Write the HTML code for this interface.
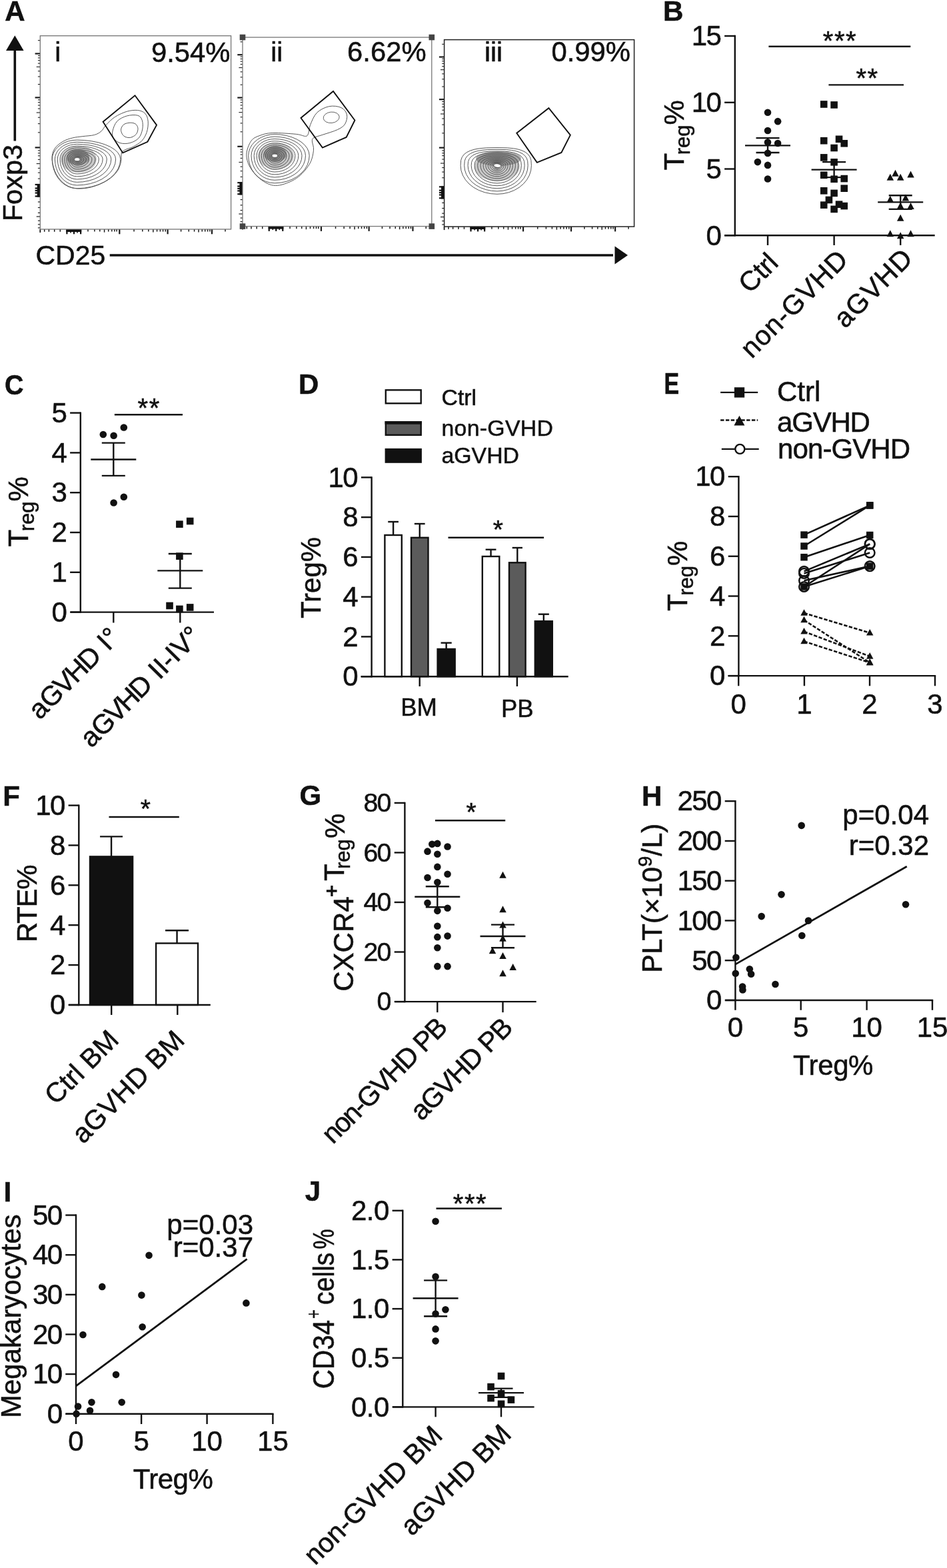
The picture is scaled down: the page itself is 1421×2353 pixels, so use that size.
<!DOCTYPE html>
<html lang="en"><head><meta charset="utf-8"><title>Figure</title>
<style>
html,body{margin:0;padding:0;background:#fff}
svg{display:block}
svg text{font-family:"Liberation Sans",Arial,Helvetica,sans-serif;stroke:#111;stroke-width:.55px}
</style></head>
<body>
<svg width="1421" height="2353" viewBox="0 0 1421 2353">
<rect width="1421" height="2353" fill="#fff"/>
<text transform="translate(7.2 30.8)" font-size="42" font-weight="bold" stroke-width="0" fill="#111">A</text>
<line x1="52.6" y1="80.5" x2="60.3" y2="80.5" stroke="#1c1c1c" stroke-width="2.2"/>
<line x1="52.6" y1="146.4" x2="60.3" y2="146.4" stroke="#1c1c1c" stroke-width="2.2"/>
<line x1="52.6" y1="221.4" x2="60.3" y2="221.4" stroke="#1c1c1c" stroke-width="2.2"/>
<line x1="56.9" y1="126.56" x2="60.3" y2="126.56" stroke="#1c1c1c" stroke-width="1.1"/>
<line x1="56.9" y1="114.96" x2="60.3" y2="114.96" stroke="#1c1c1c" stroke-width="1.1"/>
<line x1="56.9" y1="106.72" x2="60.3" y2="106.72" stroke="#1c1c1c" stroke-width="1.1"/>
<line x1="54.7" y1="100.34" x2="60.3" y2="100.34" stroke="#1c1c1c" stroke-width="1.1"/>
<line x1="56.9" y1="95.12" x2="60.3" y2="95.12" stroke="#1c1c1c" stroke-width="1.1"/>
<line x1="56.9" y1="90.71" x2="60.3" y2="90.71" stroke="#1c1c1c" stroke-width="1.1"/>
<line x1="56.9" y1="86.89" x2="60.3" y2="86.89" stroke="#1c1c1c" stroke-width="1.1"/>
<line x1="56.9" y1="83.52" x2="60.3" y2="83.52" stroke="#1c1c1c" stroke-width="1.1"/>
<line x1="56.9" y1="198.82" x2="60.3" y2="198.82" stroke="#1c1c1c" stroke-width="1.1"/>
<line x1="56.9" y1="185.62" x2="60.3" y2="185.62" stroke="#1c1c1c" stroke-width="1.1"/>
<line x1="56.9" y1="176.25" x2="60.3" y2="176.25" stroke="#1c1c1c" stroke-width="1.1"/>
<line x1="54.7" y1="168.98" x2="60.3" y2="168.98" stroke="#1c1c1c" stroke-width="1.1"/>
<line x1="56.9" y1="163.04" x2="60.3" y2="163.04" stroke="#1c1c1c" stroke-width="1.1"/>
<line x1="56.9" y1="158.02" x2="60.3" y2="158.02" stroke="#1c1c1c" stroke-width="1.1"/>
<line x1="56.9" y1="153.67" x2="60.3" y2="153.67" stroke="#1c1c1c" stroke-width="1.1"/>
<line x1="56.9" y1="149.83" x2="60.3" y2="149.83" stroke="#1c1c1c" stroke-width="1.1"/>
<line x1="56.9" y1="60.66" x2="60.3" y2="60.66" stroke="#1c1c1c" stroke-width="1.1"/>
<line x1="56.9" y1="225.9" x2="60.3" y2="225.9" stroke="#1c1c1c" stroke-width="1.1"/>
<line x1="56.9" y1="229.8" x2="60.3" y2="229.8" stroke="#1c1c1c" stroke-width="1.1"/>
<line x1="56.9" y1="233.8" x2="60.3" y2="233.8" stroke="#1c1c1c" stroke-width="1.1"/>
<line x1="56.9" y1="239.4" x2="60.3" y2="239.4" stroke="#1c1c1c" stroke-width="1.1"/>
<line x1="56.9" y1="252.4" x2="60.3" y2="252.4" stroke="#1c1c1c" stroke-width="1.1"/>
<line x1="56.9" y1="259.1" x2="60.3" y2="259.1" stroke="#1c1c1c" stroke-width="1.1"/>
<line x1="56.9" y1="268.1" x2="60.3" y2="268.1" stroke="#1c1c1c" stroke-width="1.1"/>
<line x1="54.7" y1="245.6" x2="60.3" y2="245.6" stroke="#1c1c1c" stroke-width="1.1"/>
<line x1="56.9" y1="303" x2="60.3" y2="303" stroke="#1c1c1c" stroke-width="1.2"/>
<line x1="56.9" y1="311.5" x2="60.3" y2="311.5" stroke="#1c1c1c" stroke-width="1.2"/>
<line x1="56.9" y1="319.4" x2="60.3" y2="319.4" stroke="#1c1c1c" stroke-width="1.2"/>
<line x1="56.9" y1="331.2" x2="60.3" y2="331.2" stroke="#1c1c1c" stroke-width="1.2"/>
<line x1="56.9" y1="336.8" x2="60.3" y2="336.8" stroke="#1c1c1c" stroke-width="1.2"/>
<line x1="56.9" y1="341.9" x2="60.3" y2="341.9" stroke="#1c1c1c" stroke-width="1.2"/>
<line x1="54.7" y1="325" x2="60.3" y2="325" stroke="#1c1c1c" stroke-width="1.2"/>
<rect x="55.7" y="276" width="4.6" height="19.7" fill="#111"/>
<line x1="52.6" y1="277" x2="60.3" y2="277" stroke="#111" stroke-width="2.2"/>
<line x1="52.6" y1="282.5" x2="60.3" y2="282.5" stroke="#111" stroke-width="2.2"/>
<line x1="52.6" y1="286" x2="60.3" y2="286" stroke="#111" stroke-width="2.2"/>
<line x1="52.6" y1="289.5" x2="60.3" y2="289.5" stroke="#111" stroke-width="2.2"/>
<line x1="52.6" y1="294.5" x2="60.3" y2="294.5" stroke="#111" stroke-width="2.2"/>
<line x1="179.3" y1="344" x2="179.3" y2="351.3" stroke="#1c1c1c" stroke-width="2.2"/>
<line x1="251.6" y1="344" x2="251.6" y2="351.3" stroke="#1c1c1c" stroke-width="2.2"/>
<line x1="318" y1="344" x2="318" y2="351.3" stroke="#1c1c1c" stroke-width="2.2"/>
<line x1="201.06" y1="344" x2="201.06" y2="347.6" stroke="#1c1c1c" stroke-width="1.5"/>
<line x1="213.8" y1="344" x2="213.8" y2="347.6" stroke="#1c1c1c" stroke-width="1.5"/>
<line x1="222.83" y1="344" x2="222.83" y2="347.6" stroke="#1c1c1c" stroke-width="1.5"/>
<line x1="229.84" y1="344" x2="229.84" y2="348.6" stroke="#1c1c1c" stroke-width="1.5"/>
<line x1="235.56" y1="344" x2="235.56" y2="347.6" stroke="#1c1c1c" stroke-width="1.5"/>
<line x1="240.4" y1="344" x2="240.4" y2="347.6" stroke="#1c1c1c" stroke-width="1.5"/>
<line x1="244.59" y1="344" x2="244.59" y2="347.6" stroke="#1c1c1c" stroke-width="1.5"/>
<line x1="248.29" y1="344" x2="248.29" y2="347.6" stroke="#1c1c1c" stroke-width="1.5"/>
<line x1="271.59" y1="344" x2="271.59" y2="347.6" stroke="#1c1c1c" stroke-width="1.5"/>
<line x1="283.28" y1="344" x2="283.28" y2="347.6" stroke="#1c1c1c" stroke-width="1.5"/>
<line x1="291.58" y1="344" x2="291.58" y2="347.6" stroke="#1c1c1c" stroke-width="1.5"/>
<line x1="298.01" y1="344" x2="298.01" y2="348.6" stroke="#1c1c1c" stroke-width="1.5"/>
<line x1="303.27" y1="344" x2="303.27" y2="347.6" stroke="#1c1c1c" stroke-width="1.5"/>
<line x1="307.71" y1="344" x2="307.71" y2="347.6" stroke="#1c1c1c" stroke-width="1.5"/>
<line x1="311.57" y1="344" x2="311.57" y2="347.6" stroke="#1c1c1c" stroke-width="1.5"/>
<line x1="314.96" y1="344" x2="314.96" y2="347.6" stroke="#1c1c1c" stroke-width="1.5"/>
<line x1="337.99" y1="344" x2="337.99" y2="347.6" stroke="#1c1c1c" stroke-width="1.5"/>
<line x1="132" y1="344" x2="132" y2="347.6" stroke="#1c1c1c" stroke-width="1.5"/>
<line x1="141.9" y1="344" x2="141.9" y2="347.6" stroke="#1c1c1c" stroke-width="1.5"/>
<line x1="149.8" y1="344" x2="149.8" y2="347.6" stroke="#1c1c1c" stroke-width="1.5"/>
<line x1="162.7" y1="344" x2="162.7" y2="347.6" stroke="#1c1c1c" stroke-width="1.5"/>
<line x1="167.8" y1="344" x2="167.8" y2="347.6" stroke="#1c1c1c" stroke-width="1.5"/>
<line x1="171.8" y1="344" x2="171.8" y2="347.6" stroke="#1c1c1c" stroke-width="1.5"/>
<line x1="175.1" y1="344" x2="175.1" y2="347.6" stroke="#1c1c1c" stroke-width="1.5"/>
<line x1="156.6" y1="344" x2="156.6" y2="348.6" stroke="#1c1c1c" stroke-width="1.5"/>
<line x1="66.7" y1="344" x2="66.7" y2="347.8" stroke="#1c1c1c" stroke-width="1.5"/>
<line x1="73.4" y1="344" x2="73.4" y2="347.8" stroke="#1c1c1c" stroke-width="1.5"/>
<line x1="81.7" y1="344" x2="81.7" y2="347.8" stroke="#1c1c1c" stroke-width="1.5"/>
<line x1="90.3" y1="344" x2="90.3" y2="347.8" stroke="#1c1c1c" stroke-width="1.5"/>
<line x1="60.3" y1="344" x2="60.3" y2="349" stroke="#1c1c1c" stroke-width="1.8"/>
<rect x="99.3" y="344" width="22.9" height="4" fill="#111"/>
<line x1="100.4" y1="344" x2="100.4" y2="351.3" stroke="#111" stroke-width="2.2"/>
<line x1="111" y1="344" x2="111" y2="351.3" stroke="#111" stroke-width="2.2"/>
<line x1="121.1" y1="344" x2="121.1" y2="351.3" stroke="#111" stroke-width="2.2"/>
<line x1="106" y1="344" x2="106" y2="349.5" stroke="#111" stroke-width="1.6"/>
<line x1="116" y1="344" x2="116" y2="349.5" stroke="#111" stroke-width="1.6"/>
<rect x="60.3" y="53.7" width="286.3" height="290.3" fill="none" stroke="#757575" stroke-width="1.3"/>
<text transform="translate(82.2 92.4)" font-size="40.5" fill="#111">i</text>
<text transform="translate(345.4 92.7)" font-size="41.8" text-anchor="end" fill="#111">9.54%</text>
<ellipse cx="118" cy="239" rx="27" ry="20" fill="#666" opacity="0.36"/>
<ellipse cx="117" cy="236" rx="17" ry="12" fill="#505050" opacity="0.5"/>
<path d="M119.42 238.9L119.36 239.36L119.18 239.8L118.89 240.22L118.5 240.59L118.02 240.92L117.46 241.18L116.84 241.38L116.18 241.49L115.5 241.53L115.11 241.49L114.74 241.38L114.38 241.18L114.07 240.92L113.79 240.59L113.57 240.22L113.4 239.8L113.3 239.36L113.27 238.9L113.3 238.6L113.4 238.31L113.57 238.04L113.79 237.79L114.07 237.58L114.38 237.4L114.74 237.28L115.11 237.2L115.5 237.17L116.18 237.2L116.84 237.28L117.46 237.4L118.02 237.58L118.5 237.79L118.89 238.04L119.18 238.31L119.36 238.6Z" fill="none" stroke="#4e4e4e" stroke-width="0.95"/>
<path d="M120.57 238.9L120.49 239.49L120.26 240.07L119.89 240.6L119.38 241.09L118.76 241.51L118.03 241.85L117.23 242.1L116.38 242.26L115.5 242.31L115 242.26L114.51 242.1L114.06 241.85L113.64 241.51L113.29 241.09L113 240.6L112.79 240.07L112.66 239.49L112.61 238.9L112.66 238.51L112.79 238.14L113 237.78L113.29 237.46L113.64 237.19L114.06 236.96L114.51 236.8L115 236.7L115.5 236.66L116.38 236.7L117.23 236.8L118.03 236.96L118.76 237.19L119.38 237.46L119.89 237.78L120.26 238.14L120.49 238.51Z" fill="none" stroke="#4e4e4e" stroke-width="0.95"/>
<path d="M122.79 238.9L122.68 239.75L122.35 240.58L121.81 241.35L121.09 242.05L120.19 242.65L119.15 243.14L117.99 243.51L116.77 243.73L115.5 243.8L114.78 243.73L114.08 243.51L113.42 243.14L112.83 242.65L112.32 242.05L111.9 241.35L111.6 240.58L111.41 239.75L111.35 238.9L111.41 238.34L111.6 237.8L111.9 237.29L112.32 236.83L112.83 236.44L113.42 236.12L114.08 235.88L114.78 235.73L115.5 235.68L116.77 235.73L117.99 235.88L119.15 236.12L120.19 236.44L121.09 236.83L121.81 237.29L122.35 237.8L122.68 238.34Z" fill="none" stroke="#4e4e4e" stroke-width="0.95"/>
<path d="M125.74 238.9L125.59 240.1L125.12 241.25L124.37 242.34L123.35 243.33L122.08 244.17L120.62 244.86L119 245.37L117.28 245.68L115.5 245.79L114.49 245.68L113.5 245.37L112.58 244.86L111.75 244.17L111.03 243.33L110.45 242.34L110.02 241.25L109.75 240.1L109.67 238.9L109.75 238.12L110.02 237.36L110.45 236.64L111.03 236L111.75 235.44L112.58 234.99L113.5 234.66L114.49 234.45L115.5 234.38L117.28 234.45L119 234.66L120.62 234.99L122.08 235.44L123.35 236L124.37 236.64L125.12 237.36L125.59 238.12Z" fill="none" stroke="#4e4e4e" stroke-width="0.95"/>
<path d="M129.29 238.9L129.09 240.51L128.46 242.07L127.45 243.54L126.07 244.86L124.37 246L122.4 246.93L120.22 247.61L117.9 248.03L115.5 248.17L114.14 248.03L112.81 247.61L111.57 246.93L110.45 246L109.48 244.86L108.69 243.54L108.12 242.07L107.76 240.51L107.64 238.9L107.76 237.84L108.12 236.82L108.69 235.86L109.48 234.99L110.45 234.24L111.57 233.63L112.81 233.18L114.14 232.91L115.5 232.82L117.9 232.91L120.22 233.18L122.4 233.63L124.37 234.24L126.07 234.99L127.45 235.86L128.46 236.82L129.09 237.84Z" fill="none" stroke="#4e4e4e" stroke-width="0.95"/>
<path d="M133.38 238.9L133.1 240.99L132.3 243.01L130.98 244.91L129.19 246.62L126.99 248.11L124.44 249.31L121.61 250.19L118.6 250.74L115.5 250.92L113.73 250.74L112.02 250.19L110.41 249.31L108.95 248.11L107.7 246.62L106.68 244.91L105.93 243.01L105.47 240.99L105.32 238.9L105.47 237.53L105.93 236.2L106.68 234.96L107.7 233.83L108.95 232.86L110.41 232.07L112.02 231.49L113.73 231.14L115.5 231.02L118.6 231.14L121.61 231.49L124.44 232.07L126.99 232.86L129.19 233.83L130.98 234.96L132.3 236.2L133.1 237.53Z" fill="none" stroke="#4e4e4e" stroke-width="0.95"/>
<path d="M137.93 238.9L137.59 241.52L136.58 244.06L134.93 246.44L132.69 248.59L129.92 250.45L126.72 251.96L123.17 253.07L119.4 253.75L115.5 253.98L113.28 253.75L111.13 253.07L109.11 251.96L107.28 250.45L105.71 248.59L104.43 246.44L103.49 244.06L102.91 241.52L102.72 238.9L102.91 237.18L103.49 235.52L104.43 233.95L105.71 232.54L107.28 231.32L109.11 230.33L111.13 229.6L113.28 229.16L115.5 229.01L119.4 229.16L123.17 229.6L126.72 230.33L129.92 231.32L132.69 232.54L134.93 233.95L136.58 235.52L137.59 237.18Z" fill="none" stroke="#4e4e4e" stroke-width="0.95"/>
<path d="M142.93 238.9L142.52 242.1L141.28 245.21L139.26 248.12L136.51 250.75L133.13 253.03L129.22 254.87L124.88 256.23L120.26 257.06L115.5 257.34L112.79 257.06L110.16 256.23L107.69 254.87L105.45 253.03L103.53 250.75L101.97 248.12L100.81 245.21L100.11 242.1L99.87 238.9L100.11 236.8L100.81 234.76L101.97 232.85L103.53 231.12L105.45 229.63L107.69 228.42L110.16 227.53L112.79 226.99L115.5 226.8L120.26 226.99L124.88 227.53L129.22 228.42L133.13 229.63L136.51 231.12L139.26 232.85L141.28 234.76L142.52 236.8Z" fill="none" stroke="#4e4e4e" stroke-width="0.95"/>
<path d="M148.34 238.9L147.84 242.73L146.36 246.45L143.94 249.94L140.66 253.09L136.61 255.81L131.92 258.02L126.73 259.65L121.2 260.64L115.5 260.98L112.25 260.64L109.1 259.65L106.15 258.02L103.47 255.81L101.17 253.09L99.3 249.94L97.92 246.45L97.08 242.73L96.79 238.9L97.08 236.38L97.92 233.95L99.3 231.66L101.17 229.59L103.47 227.8L106.15 226.36L109.1 225.29L112.25 224.64L115.5 224.42L121.2 224.64L126.73 225.29L131.92 226.36L136.61 227.8L140.66 229.59L143.94 231.66L146.36 233.95L147.84 236.38Z" fill="none" stroke="#4e4e4e" stroke-width="0.95"/>
<path d="M154.13 238.9L153.55 243.41L151.8 247.78L148.96 251.89L145.09 255.59L140.33 258.8L134.82 261.39L128.71 263.31L122.21 264.48L115.5 264.87L111.68 264.48L107.97 263.31L104.5 261.39L101.35 258.8L98.64 255.59L96.44 251.89L94.82 247.78L93.83 243.41L93.49 238.9L93.83 235.94L94.82 233.07L96.44 230.38L98.64 227.95L101.35 225.85L104.5 224.14L107.97 222.89L111.68 222.12L115.5 221.86L122.21 222.12L128.71 222.89L134.82 224.14L140.33 225.85L145.09 227.95L148.96 230.38L151.8 233.07L153.55 235.94Z" fill="none" stroke="#4e4e4e" stroke-width="0.95"/>
<path d="M160.29 238.9L159.61 244.13L157.59 249.2L154.29 253.96L149.81 258.26L144.29 261.97L137.9 264.98L130.82 267.2L123.28 268.55L115.5 269.01L111.07 268.55L106.77 267.2L102.74 264.98L99.1 261.97L95.95 258.26L93.4 253.96L91.52 249.2L90.37 244.13L89.98 238.9L90.37 235.47L91.52 232.14L93.4 229.02L95.95 226.2L99.1 223.77L102.74 221.79L106.77 220.34L111.07 219.45L115.5 219.15L123.28 219.45L130.82 220.34L137.9 221.79L144.29 223.77L149.81 226.2L154.29 229.02L157.59 232.14L159.61 235.47Z" fill="none" stroke="#4e4e4e" stroke-width="0.95"/>
<path d="M166.8 238.9L166.02 244.89L163.7 250.69L159.92 256.14L154.8 261.07L148.47 265.32L141.15 268.77L133.04 271.31L124.41 272.86L115.5 273.39L110.43 272.86L105.51 271.31L100.89 268.77L96.72 265.32L93.11 261.07L90.19 256.14L88.04 250.69L86.72 244.89L86.28 238.9L86.72 234.97L88.04 231.16L90.19 227.59L93.11 224.36L96.72 221.57L100.89 219.31L105.51 217.64L110.43 216.62L115.5 216.28L124.41 216.62L133.04 217.64L141.15 219.31L148.47 221.57L154.8 224.36L159.92 227.59L163.7 231.16L166.02 234.97Z" fill="none" stroke="#4e4e4e" stroke-width="0.95"/>
<path d="M173.64 238.9L172.75 245.69L170.13 252.27L165.85 258.44L160.04 264.02L152.87 268.84L144.57 272.75L135.38 275.63L125.6 277.39L115.5 277.99L109.75 277.39L104.17 275.63L98.94 272.75L94.21 268.84L90.13 264.02L86.82 258.44L84.38 252.27L82.88 245.69L82.38 238.9L82.88 234.45L84.38 230.13L86.82 226.08L90.13 222.42L94.21 219.26L98.94 216.69L104.17 214.81L109.75 213.65L115.5 213.26L125.6 213.65L135.38 214.81L144.57 216.69L152.87 219.26L160.04 222.42L165.85 226.08L170.13 230.13L172.75 234.45Z" fill="none" stroke="#4e4e4e" stroke-width="0.95"/>
<path d="M180.8 238.9L179.81 246.52L176.86 253.91L172.05 260.85L165.52 267.12L157.47 272.53L148.15 276.92L137.83 280.15L126.84 282.13L115.5 282.8L109.04 282.13L102.78 280.15L96.9 276.92L91.59 272.53L87 267.12L83.28 260.85L80.54 253.91L78.87 246.52L78.3 238.9L78.87 233.9L80.54 229.05L83.28 224.5L87 220.39L91.59 216.84L96.9 213.96L102.78 211.84L109.04 210.54L115.5 210.1L126.84 210.54L137.83 211.84L148.15 213.96L157.47 216.84L165.52 220.39L172.05 224.5L176.86 229.05L179.81 233.9Z" fill="none" stroke="#4e4e4e" stroke-width="0.95"/>
<ellipse cx="115.8" cy="239.2" rx="4.2" ry="2.6" fill="#fff" stroke="#4e4e4e" stroke-width=".8"/>
<path d="M78.08 239.7C77.58 233.29 79.06 228 81.77 223.44C84.48 218.89 89.78 215.12 94.33 212.36C98.89 209.6 104.18 208.17 109.11 206.89C114.04 205.61 118.47 205.41 123.89 204.68C129.31 203.94 136.94 203.76 141.62 202.46C146.3 201.15 149.01 199.38 151.97 196.84C154.92 194.31 155.91 190.81 159.35 187.24C162.8 183.67 167.48 178.74 172.65 175.42C177.83 172.09 184.72 168.94 190.39 167.29C196.05 165.64 202.09 165.02 206.64 165.51C211.2 166.01 215.14 167.49 217.73 170.24C220.31 173 221.74 177.39 222.16 182.07C222.58 186.75 221.84 193.4 220.24 198.32C218.64 203.25 216.05 207.93 212.55 211.62C209.06 215.32 203.44 218.27 199.25 220.49C195.07 222.7 190.26 223.32 187.43 224.92C184.6 226.52 183.24 227.14 182.26 230.09C181.27 233.05 182.63 238.1 181.52 242.65C180.41 247.21 179.06 252.75 175.61 257.43C172.16 262.11 166.99 266.91 160.83 270.73C154.67 274.55 146.05 278.29 138.67 280.34C131.28 282.38 123.15 283.49 116.5 283C109.85 282.5 104.06 280.9 98.77 277.38C93.47 273.86 88.18 268.15 84.73 261.86C81.28 255.58 78.57 246.1 78.08 239.7Z" fill="none" stroke="#4e4e4e" stroke-width="0.95"/>
<path d="M181.52 195.37C181.4 192.53 183.12 189.09 185.22 187.24C187.31 185.39 191.13 184.53 194.08 184.28C197.04 184.04 200.81 184.41 202.95 185.76C205.09 187.11 206.69 189.82 206.94 192.41C207.18 195 206.32 198.94 204.43 201.28C202.53 203.62 198.64 205.96 195.56 206.45C192.48 206.94 188.29 206.08 185.95 204.23C183.61 202.39 181.64 198.2 181.52 195.37Z" fill="none" stroke="#4e4e4e" stroke-width="0.95"/>
<path d="M168.96 196.84C169.82 192.66 172.04 185.88 175.61 182.07C179.18 178.25 185.22 175.42 190.39 173.94C195.56 172.46 202.82 172.09 206.64 173.2C210.46 174.31 212.11 177.14 213.29 180.59C214.47 184.04 214.6 189.45 213.74 193.89C212.87 198.32 211.27 203.74 208.12 207.19C204.97 210.64 199.5 213.35 194.82 214.58C190.14 215.81 184.11 215.81 180.04 214.58C175.98 213.35 172.28 210.14 170.44 207.19C168.59 204.23 168.1 201.03 168.96 196.84Z" fill="none" stroke="#4e4e4e" stroke-width="0.95"/>
<path d="M202.5 143.3L235 187.7L221.4 212.8L184.2 229.4L154.6 182.8Z" fill="none" stroke="#111" stroke-width="1.9" stroke-linejoin="miter"/>
<line x1="356.3" y1="82.18" x2="364" y2="82.18" stroke="#1c1c1c" stroke-width="2.2"/>
<line x1="356.3" y1="146.56" x2="364" y2="146.56" stroke="#1c1c1c" stroke-width="2.2"/>
<line x1="356.3" y1="219.83" x2="364" y2="219.83" stroke="#1c1c1c" stroke-width="2.2"/>
<line x1="360.6" y1="127.18" x2="364" y2="127.18" stroke="#1c1c1c" stroke-width="1.1"/>
<line x1="360.6" y1="115.84" x2="364" y2="115.84" stroke="#1c1c1c" stroke-width="1.1"/>
<line x1="360.6" y1="107.8" x2="364" y2="107.8" stroke="#1c1c1c" stroke-width="1.1"/>
<line x1="358.4" y1="101.56" x2="364" y2="101.56" stroke="#1c1c1c" stroke-width="1.1"/>
<line x1="360.6" y1="96.46" x2="364" y2="96.46" stroke="#1c1c1c" stroke-width="1.1"/>
<line x1="360.6" y1="92.15" x2="364" y2="92.15" stroke="#1c1c1c" stroke-width="1.1"/>
<line x1="360.6" y1="88.42" x2="364" y2="88.42" stroke="#1c1c1c" stroke-width="1.1"/>
<line x1="360.6" y1="85.13" x2="364" y2="85.13" stroke="#1c1c1c" stroke-width="1.1"/>
<line x1="360.6" y1="197.77" x2="364" y2="197.77" stroke="#1c1c1c" stroke-width="1.1"/>
<line x1="360.6" y1="184.87" x2="364" y2="184.87" stroke="#1c1c1c" stroke-width="1.1"/>
<line x1="360.6" y1="175.72" x2="364" y2="175.72" stroke="#1c1c1c" stroke-width="1.1"/>
<line x1="358.4" y1="168.62" x2="364" y2="168.62" stroke="#1c1c1c" stroke-width="1.1"/>
<line x1="360.6" y1="162.82" x2="364" y2="162.82" stroke="#1c1c1c" stroke-width="1.1"/>
<line x1="360.6" y1="157.91" x2="364" y2="157.91" stroke="#1c1c1c" stroke-width="1.1"/>
<line x1="360.6" y1="153.66" x2="364" y2="153.66" stroke="#1c1c1c" stroke-width="1.1"/>
<line x1="360.6" y1="149.91" x2="364" y2="149.91" stroke="#1c1c1c" stroke-width="1.1"/>
<line x1="360.6" y1="62.8" x2="364" y2="62.8" stroke="#1c1c1c" stroke-width="1.1"/>
<line x1="360.6" y1="224.23" x2="364" y2="224.23" stroke="#1c1c1c" stroke-width="1.1"/>
<line x1="360.6" y1="228.04" x2="364" y2="228.04" stroke="#1c1c1c" stroke-width="1.1"/>
<line x1="360.6" y1="231.94" x2="364" y2="231.94" stroke="#1c1c1c" stroke-width="1.1"/>
<line x1="360.6" y1="237.41" x2="364" y2="237.41" stroke="#1c1c1c" stroke-width="1.1"/>
<line x1="360.6" y1="250.11" x2="364" y2="250.11" stroke="#1c1c1c" stroke-width="1.1"/>
<line x1="360.6" y1="256.66" x2="364" y2="256.66" stroke="#1c1c1c" stroke-width="1.1"/>
<line x1="360.6" y1="265.45" x2="364" y2="265.45" stroke="#1c1c1c" stroke-width="1.1"/>
<line x1="358.4" y1="243.47" x2="364" y2="243.47" stroke="#1c1c1c" stroke-width="1.1"/>
<line x1="360.6" y1="299.55" x2="364" y2="299.55" stroke="#1c1c1c" stroke-width="1.2"/>
<line x1="360.6" y1="307.85" x2="364" y2="307.85" stroke="#1c1c1c" stroke-width="1.2"/>
<line x1="360.6" y1="315.57" x2="364" y2="315.57" stroke="#1c1c1c" stroke-width="1.2"/>
<line x1="360.6" y1="327.1" x2="364" y2="327.1" stroke="#1c1c1c" stroke-width="1.2"/>
<line x1="360.6" y1="332.57" x2="364" y2="332.57" stroke="#1c1c1c" stroke-width="1.2"/>
<line x1="360.6" y1="337.55" x2="364" y2="337.55" stroke="#1c1c1c" stroke-width="1.2"/>
<line x1="358.4" y1="321.04" x2="364" y2="321.04" stroke="#1c1c1c" stroke-width="1.2"/>
<rect x="359.4" y="273.17" width="4.6" height="19.25" fill="#111"/>
<line x1="356.3" y1="274.15" x2="364" y2="274.15" stroke="#111" stroke-width="2.2"/>
<line x1="356.3" y1="279.52" x2="364" y2="279.52" stroke="#111" stroke-width="2.2"/>
<line x1="356.3" y1="282.94" x2="364" y2="282.94" stroke="#111" stroke-width="2.2"/>
<line x1="356.3" y1="286.36" x2="364" y2="286.36" stroke="#111" stroke-width="2.2"/>
<line x1="356.3" y1="291.24" x2="364" y2="291.24" stroke="#111" stroke-width="2.2"/>
<line x1="481.96" y1="339.6" x2="481.96" y2="346.9" stroke="#1c1c1c" stroke-width="2.2"/>
<line x1="553.63" y1="339.6" x2="553.63" y2="346.9" stroke="#1c1c1c" stroke-width="2.2"/>
<line x1="619.45" y1="339.6" x2="619.45" y2="346.9" stroke="#1c1c1c" stroke-width="2.2"/>
<line x1="503.54" y1="339.6" x2="503.54" y2="343.2" stroke="#1c1c1c" stroke-width="1.5"/>
<line x1="516.16" y1="339.6" x2="516.16" y2="343.2" stroke="#1c1c1c" stroke-width="1.5"/>
<line x1="525.11" y1="339.6" x2="525.11" y2="343.2" stroke="#1c1c1c" stroke-width="1.5"/>
<line x1="532.06" y1="339.6" x2="532.06" y2="344.2" stroke="#1c1c1c" stroke-width="1.5"/>
<line x1="537.73" y1="339.6" x2="537.73" y2="343.2" stroke="#1c1c1c" stroke-width="1.5"/>
<line x1="542.53" y1="339.6" x2="542.53" y2="343.2" stroke="#1c1c1c" stroke-width="1.5"/>
<line x1="546.68" y1="339.6" x2="546.68" y2="343.2" stroke="#1c1c1c" stroke-width="1.5"/>
<line x1="550.35" y1="339.6" x2="550.35" y2="343.2" stroke="#1c1c1c" stroke-width="1.5"/>
<line x1="573.44" y1="339.6" x2="573.44" y2="343.2" stroke="#1c1c1c" stroke-width="1.5"/>
<line x1="585.03" y1="339.6" x2="585.03" y2="343.2" stroke="#1c1c1c" stroke-width="1.5"/>
<line x1="593.26" y1="339.6" x2="593.26" y2="343.2" stroke="#1c1c1c" stroke-width="1.5"/>
<line x1="599.64" y1="339.6" x2="599.64" y2="344.2" stroke="#1c1c1c" stroke-width="1.5"/>
<line x1="604.85" y1="339.6" x2="604.85" y2="343.2" stroke="#1c1c1c" stroke-width="1.5"/>
<line x1="609.25" y1="339.6" x2="609.25" y2="343.2" stroke="#1c1c1c" stroke-width="1.5"/>
<line x1="613.07" y1="339.6" x2="613.07" y2="343.2" stroke="#1c1c1c" stroke-width="1.5"/>
<line x1="616.44" y1="339.6" x2="616.44" y2="343.2" stroke="#1c1c1c" stroke-width="1.5"/>
<line x1="639.26" y1="339.6" x2="639.26" y2="343.2" stroke="#1c1c1c" stroke-width="1.5"/>
<line x1="435.07" y1="339.6" x2="435.07" y2="343.2" stroke="#1c1c1c" stroke-width="1.5"/>
<line x1="444.89" y1="339.6" x2="444.89" y2="343.2" stroke="#1c1c1c" stroke-width="1.5"/>
<line x1="452.72" y1="339.6" x2="452.72" y2="343.2" stroke="#1c1c1c" stroke-width="1.5"/>
<line x1="465.51" y1="339.6" x2="465.51" y2="343.2" stroke="#1c1c1c" stroke-width="1.5"/>
<line x1="470.56" y1="339.6" x2="470.56" y2="343.2" stroke="#1c1c1c" stroke-width="1.5"/>
<line x1="474.53" y1="339.6" x2="474.53" y2="343.2" stroke="#1c1c1c" stroke-width="1.5"/>
<line x1="477.8" y1="339.6" x2="477.8" y2="343.2" stroke="#1c1c1c" stroke-width="1.5"/>
<line x1="459.46" y1="339.6" x2="459.46" y2="344.2" stroke="#1c1c1c" stroke-width="1.5"/>
<line x1="370.34" y1="339.6" x2="370.34" y2="343.4" stroke="#1c1c1c" stroke-width="1.5"/>
<line x1="376.99" y1="339.6" x2="376.99" y2="343.4" stroke="#1c1c1c" stroke-width="1.5"/>
<line x1="385.21" y1="339.6" x2="385.21" y2="343.4" stroke="#1c1c1c" stroke-width="1.5"/>
<line x1="393.74" y1="339.6" x2="393.74" y2="343.4" stroke="#1c1c1c" stroke-width="1.5"/>
<line x1="364" y1="339.6" x2="364" y2="344.6" stroke="#1c1c1c" stroke-width="1.8"/>
<rect x="402.66" y="339.6" width="22.7" height="4" fill="#111"/>
<line x1="403.75" y1="339.6" x2="403.75" y2="346.9" stroke="#111" stroke-width="2.2"/>
<line x1="414.26" y1="339.6" x2="414.26" y2="346.9" stroke="#111" stroke-width="2.2"/>
<line x1="424.27" y1="339.6" x2="424.27" y2="346.9" stroke="#111" stroke-width="2.2"/>
<line x1="409.3" y1="339.6" x2="409.3" y2="345.1" stroke="#111" stroke-width="1.6"/>
<line x1="419.21" y1="339.6" x2="419.21" y2="345.1" stroke="#111" stroke-width="1.6"/>
<rect x="364" y="56" width="283.8" height="283.6" fill="none" stroke="#777" stroke-width="1.3"/>
<rect x="359.7" y="51.7" width="8.6" height="8.6" fill="#444"/>
<rect x="643.5" y="51.7" width="8.6" height="8.6" fill="#444"/>
<rect x="359.7" y="335.3" width="8.6" height="8.6" fill="#444"/>
<rect x="643.5" y="335.3" width="8.6" height="8.6" fill="#444"/>
<text transform="translate(406.3 92)" font-size="40.5" fill="#111">ii</text>
<text transform="translate(639.6 92.2)" font-size="41.8" text-anchor="end" fill="#111">6.62%</text>
<ellipse cx="414" cy="234" rx="27" ry="20" fill="#666" opacity="0.36"/>
<ellipse cx="413" cy="231" rx="17" ry="12" fill="#505050" opacity="0.5"/>
<path d="M415.23 233.7L415.18 234.13L415.04 234.54L414.81 234.93L414.49 235.29L414.11 235.59L413.66 235.84L413.17 236.02L412.64 236.13L412.1 236.17L411.69 236.13L411.29 236.02L410.92 235.84L410.58 235.59L410.29 235.29L410.05 234.93L409.88 234.54L409.77 234.13L409.74 233.7L409.77 233.37L409.88 233.04L410.05 232.74L410.29 232.46L410.58 232.22L410.92 232.03L411.29 231.89L411.69 231.8L412.1 231.77L412.64 231.8L413.17 231.89L413.66 232.03L414.11 232.22L414.49 232.46L414.81 232.74L415.04 233.04L415.18 233.37Z" fill="none" stroke="#4e4e4e" stroke-width="0.95"/>
<path d="M416.15 233.7L416.08 234.25L415.9 234.79L415.6 235.3L415.2 235.75L414.7 236.14L414.12 236.46L413.48 236.7L412.8 236.84L412.1 236.89L411.57 236.84L411.05 236.7L410.57 236.46L410.13 236.14L409.76 235.75L409.45 235.3L409.23 234.79L409.09 234.25L409.04 233.7L409.09 233.27L409.23 232.85L409.45 232.45L409.76 232.1L410.13 231.79L410.57 231.54L411.05 231.36L411.57 231.25L412.1 231.21L412.8 231.25L413.48 231.36L414.12 231.54L414.7 231.79L415.2 232.1L415.6 232.45L415.9 232.85L416.08 233.27Z" fill="none" stroke="#4e4e4e" stroke-width="0.95"/>
<path d="M417.92 233.7L417.83 234.5L417.57 235.27L417.14 235.99L416.56 236.65L415.84 237.22L415.01 237.67L414.09 238.01L413.11 238.22L412.1 238.29L411.34 238.22L410.6 238.01L409.9 237.67L409.27 237.22L408.73 236.65L408.29 235.99L407.97 235.27L407.77 234.5L407.7 233.7L407.77 233.08L407.97 232.47L408.29 231.91L408.73 231.4L409.27 230.95L409.9 230.6L410.6 230.33L411.34 230.17L412.1 230.12L413.11 230.17L414.09 230.33L415.01 230.6L415.84 230.95L416.56 231.4L417.14 231.91L417.57 232.47L417.83 233.08Z" fill="none" stroke="#4e4e4e" stroke-width="0.95"/>
<path d="M420.27 233.7L420.15 234.82L419.78 235.9L419.18 236.92L418.36 237.84L417.35 238.64L416.19 239.28L414.89 239.76L413.52 240.05L412.1 240.15L411.03 240.05L409.99 239.76L409.01 239.28L408.13 238.64L407.37 237.84L406.75 236.92L406.29 235.9L406.01 234.82L405.92 233.7L406.01 232.83L406.29 231.98L406.75 231.18L407.37 230.46L408.13 229.84L409.01 229.34L409.99 228.97L411.03 228.74L412.1 228.67L413.52 228.74L414.89 228.97L416.19 229.34L417.35 229.84L418.36 230.46L419.18 231.18L419.78 231.98L420.15 232.83Z" fill="none" stroke="#4e4e4e" stroke-width="0.95"/>
<path d="M423.11 233.7L422.94 235.21L422.44 236.67L421.63 238.04L420.53 239.28L419.17 240.35L417.6 241.22L415.86 241.86L414.01 242.25L412.1 242.38L410.65 242.25L409.25 241.86L407.94 241.22L406.75 240.35L405.72 239.28L404.89 238.04L404.28 236.67L403.9 235.21L403.78 233.7L403.9 232.52L404.28 231.38L404.89 230.31L405.72 229.34L406.75 228.51L407.94 227.83L409.25 227.33L410.65 227.02L412.1 226.92L414.01 227.02L415.86 227.33L417.6 227.83L419.17 228.51L420.53 229.34L421.63 230.31L422.44 231.38L422.94 232.52Z" fill="none" stroke="#4e4e4e" stroke-width="0.95"/>
<path d="M426.36 233.7L426.15 235.65L425.5 237.55L424.45 239.33L423.03 240.93L421.27 242.32L419.23 243.44L416.98 244.27L414.58 244.78L412.1 244.95L410.23 244.78L408.41 244.27L406.71 243.44L405.17 242.32L403.84 240.93L402.76 239.33L401.96 237.55L401.48 235.65L401.31 233.7L401.48 232.17L401.96 230.69L402.76 229.31L403.84 228.05L405.17 226.97L406.71 226.09L408.41 225.44L410.23 225.05L412.1 224.91L414.58 225.05L416.98 225.44L419.23 226.09L421.27 226.97L423.03 228.05L424.45 229.31L425.5 230.69L426.15 232.17Z" fill="none" stroke="#4e4e4e" stroke-width="0.95"/>
<path d="M430 233.7L429.73 236.15L428.92 238.53L427.6 240.76L425.81 242.78L423.61 244.52L421.05 245.93L418.22 246.97L415.21 247.61L412.1 247.82L409.75 247.61L407.47 246.97L405.33 245.93L403.4 244.52L401.73 242.78L400.38 240.76L399.38 238.53L398.77 236.15L398.56 233.7L398.77 231.78L399.38 229.93L400.38 228.19L401.73 226.61L403.4 225.25L405.33 224.15L407.47 223.34L409.75 222.84L412.1 222.67L415.21 222.84L418.22 223.34L421.05 224.15L423.61 225.25L425.81 226.61L427.6 228.19L428.92 229.93L429.73 231.78Z" fill="none" stroke="#4e4e4e" stroke-width="0.95"/>
<path d="M433.99 233.7L433.65 236.7L432.67 239.61L431.05 242.33L428.87 244.8L426.17 246.93L423.04 248.65L419.59 249.92L415.9 250.7L412.1 250.97L409.23 250.7L406.44 249.92L403.82 248.65L401.46 246.93L399.42 244.8L397.77 242.33L396.55 239.61L395.8 236.7L395.55 233.7L395.8 231.36L396.55 229.09L397.77 226.96L399.42 225.03L401.46 223.37L403.82 222.02L406.44 221.03L409.23 220.42L412.1 220.21L415.9 220.42L419.59 221.03L423.04 222.02L426.17 223.37L428.87 225.03L431.05 226.96L432.67 229.09L433.65 231.36Z" fill="none" stroke="#4e4e4e" stroke-width="0.95"/>
<path d="M438.3 233.7L437.9 237.29L436.72 240.77L434.79 244.03L432.17 246.99L428.94 249.53L425.2 251.6L421.06 253.12L416.65 254.06L412.1 254.37L408.66 254.06L405.32 253.12L402.19 251.6L399.36 249.53L396.92 246.99L394.94 244.03L393.48 240.77L392.59 237.29L392.29 233.7L392.59 230.9L393.48 228.18L394.94 225.63L396.92 223.32L399.36 221.33L402.19 219.72L405.32 218.53L408.66 217.8L412.1 217.56L416.65 217.8L421.06 218.53L425.2 219.72L428.94 221.33L432.17 223.32L434.79 225.63L436.72 228.18L437.9 230.9Z" fill="none" stroke="#4e4e4e" stroke-width="0.95"/>
<path d="M442.92 233.7L442.45 237.92L441.06 242.02L438.79 245.86L435.71 249.33L431.91 252.33L427.51 254.76L422.64 256.55L417.45 257.65L412.1 258.02L408.05 257.65L404.13 256.55L400.45 254.76L397.12 252.33L394.24 249.33L391.91 245.86L390.2 242.02L389.14 237.92L388.79 233.7L389.14 230.4L390.2 227.2L391.91 224.2L394.24 221.49L397.12 219.15L400.45 217.25L404.13 215.85L408.05 215L412.1 214.71L417.45 215L422.64 215.85L427.51 217.25L431.91 219.15L435.71 221.49L438.79 224.2L441.06 227.2L442.45 230.4Z" fill="none" stroke="#4e4e4e" stroke-width="0.95"/>
<path d="M447.84 233.7L447.29 238.6L445.68 243.34L443.05 247.8L439.48 251.82L435.07 255.3L429.97 258.11L424.32 260.19L418.31 261.46L412.1 261.89L407.41 261.46L402.86 260.19L398.59 258.11L394.73 255.3L391.4 251.82L388.7 247.8L386.7 243.34L385.49 238.6L385.07 233.7L385.49 229.88L386.7 226.17L388.7 222.69L391.4 219.55L394.73 216.83L398.59 214.63L402.86 213.01L407.41 212.02L412.1 211.68L418.31 212.02L424.32 213.01L429.97 214.63L435.07 216.83L439.48 219.55L443.05 222.69L445.68 226.17L447.29 229.88Z" fill="none" stroke="#4e4e4e" stroke-width="0.95"/>
<path d="M453.03 233.7L452.41 239.31L450.56 244.74L447.54 249.84L443.45 254.45L438.41 258.43L432.56 261.66L426.1 264.04L419.21 265.5L412.1 265.99L406.73 265.5L401.51 264.04L396.62 261.66L392.2 258.43L388.39 254.45L385.3 249.84L383.02 244.74L381.62 239.31L381.15 233.7L381.62 229.32L383.02 225.08L385.3 221.09L388.39 217.49L392.2 214.38L396.62 211.86L401.51 210L406.73 208.87L412.1 208.48L419.21 208.87L426.1 210L432.56 211.86L438.41 214.38L443.45 217.49L447.54 221.09L450.56 225.08L452.41 229.32Z" fill="none" stroke="#4e4e4e" stroke-width="0.95"/>
<path d="M458.49 233.7L457.78 240.05L455.69 246.22L452.27 252L447.63 257.22L441.92 261.73L435.29 265.39L427.96 268.09L420.15 269.74L412.1 270.29L406.01 269.74L400.1 268.09L394.56 265.39L389.55 261.73L385.23 257.22L381.72 252L379.14 246.22L377.55 240.05L377.02 233.7L377.55 228.74L379.14 223.93L381.72 219.41L385.23 215.33L389.55 211.81L394.56 208.95L400.1 206.84L406.01 205.55L412.1 205.12L420.15 205.55L427.96 206.84L435.29 208.95L441.92 211.81L447.63 215.33L452.27 219.41L455.69 223.93L457.78 228.74Z" fill="none" stroke="#4e4e4e" stroke-width="0.95"/>
<path d="M464.2 233.7L463.41 240.84L461.06 247.76L457.22 254.25L452.01 260.12L445.59 265.18L438.15 269.29L429.92 272.32L421.15 274.18L412.1 274.8L405.26 274.18L398.62 272.32L392.4 269.29L386.77 265.18L381.92 260.12L377.98 254.25L375.08 247.76L373.3 240.84L372.7 233.7L373.3 228.13L375.08 222.72L377.98 217.65L381.92 213.07L386.77 209.11L392.4 205.9L398.62 203.54L405.26 202.09L412.1 201.6L421.15 202.09L429.92 203.54L438.15 205.9L445.59 209.11L452.01 213.07L457.22 217.65L461.06 222.72L463.41 228.13Z" fill="none" stroke="#4e4e4e" stroke-width="0.95"/>
<ellipse cx="412.3" cy="233.7" rx="4.2" ry="2.6" fill="#fff" stroke="#4e4e4e" stroke-width=".8"/>
<path d="M369.85 232.6C369.85 225.56 373.37 216.41 376.89 211.48C380.41 206.56 385.57 205.03 390.96 203.04C396.36 201.05 400.35 199.8 409.26 199.52C418.17 199.24 436.24 200.53 444.45 201.35C452.66 202.17 455.47 204.64 458.52 204.45C461.57 204.26 461.57 203.04 462.74 200.23C463.92 197.41 463.45 192.72 465.56 187.56C467.67 182.4 470.72 173.91 475.41 169.26C480.1 164.62 487.61 160.98 493.71 159.69C499.81 158.4 507.55 159.46 512.01 161.52C516.46 163.58 519.51 167.97 520.45 172.08C521.39 176.18 519.98 182.4 517.64 186.15C515.29 189.9 512.01 191.9 506.38 194.6C500.75 197.29 489.72 200.34 483.86 202.34C477.99 204.33 473.77 205.03 471.19 206.56C468.61 208.08 468.49 208.32 468.37 211.48C468.26 214.65 471.19 219.7 470.49 225.56C469.78 231.42 468.49 239.63 464.15 246.67C459.81 253.71 452.42 262.51 444.45 267.78C436.47 273.06 424.51 277.64 416.3 278.34C408.09 279.04 401.75 276.11 395.19 272.01C388.62 267.9 381.11 260.28 376.89 253.71C372.67 247.14 369.85 239.63 369.85 232.6Z" fill="none" stroke="#4e4e4e" stroke-width="0.95"/>
<ellipse cx="497.2" cy="176.3" rx="12" ry="8.2" transform="rotate(-6 497.2 176.3)" fill="none" stroke="#4e4e4e" stroke-width=".85"/>
<path d="M500 136.9L532.4 180.5L519.7 205.9L483.9 221.6L451.5 177Z" fill="none" stroke="#111" stroke-width="1.9" stroke-linejoin="miter"/>
<line x1="658.9" y1="85.5" x2="666.6" y2="85.5" stroke="#1c1c1c" stroke-width="2.2"/>
<line x1="658.9" y1="149.17" x2="666.6" y2="149.17" stroke="#1c1c1c" stroke-width="2.2"/>
<line x1="658.9" y1="221.64" x2="666.6" y2="221.64" stroke="#1c1c1c" stroke-width="2.2"/>
<line x1="663.2" y1="130" x2="666.6" y2="130" stroke="#1c1c1c" stroke-width="1.1"/>
<line x1="663.2" y1="118.79" x2="666.6" y2="118.79" stroke="#1c1c1c" stroke-width="1.1"/>
<line x1="663.2" y1="110.83" x2="666.6" y2="110.83" stroke="#1c1c1c" stroke-width="1.1"/>
<line x1="661" y1="104.66" x2="666.6" y2="104.66" stroke="#1c1c1c" stroke-width="1.1"/>
<line x1="663.2" y1="99.62" x2="666.6" y2="99.62" stroke="#1c1c1c" stroke-width="1.1"/>
<line x1="663.2" y1="95.36" x2="666.6" y2="95.36" stroke="#1c1c1c" stroke-width="1.1"/>
<line x1="663.2" y1="91.67" x2="666.6" y2="91.67" stroke="#1c1c1c" stroke-width="1.1"/>
<line x1="663.2" y1="88.41" x2="666.6" y2="88.41" stroke="#1c1c1c" stroke-width="1.1"/>
<line x1="663.2" y1="199.82" x2="666.6" y2="199.82" stroke="#1c1c1c" stroke-width="1.1"/>
<line x1="663.2" y1="187.06" x2="666.6" y2="187.06" stroke="#1c1c1c" stroke-width="1.1"/>
<line x1="663.2" y1="178.01" x2="666.6" y2="178.01" stroke="#1c1c1c" stroke-width="1.1"/>
<line x1="661" y1="170.99" x2="666.6" y2="170.99" stroke="#1c1c1c" stroke-width="1.1"/>
<line x1="663.2" y1="165.25" x2="666.6" y2="165.25" stroke="#1c1c1c" stroke-width="1.1"/>
<line x1="663.2" y1="160.4" x2="666.6" y2="160.4" stroke="#1c1c1c" stroke-width="1.1"/>
<line x1="663.2" y1="156.19" x2="666.6" y2="156.19" stroke="#1c1c1c" stroke-width="1.1"/>
<line x1="663.2" y1="152.49" x2="666.6" y2="152.49" stroke="#1c1c1c" stroke-width="1.1"/>
<line x1="663.2" y1="66.33" x2="666.6" y2="66.33" stroke="#1c1c1c" stroke-width="1.1"/>
<line x1="663.2" y1="225.99" x2="666.6" y2="225.99" stroke="#1c1c1c" stroke-width="1.1"/>
<line x1="663.2" y1="229.76" x2="666.6" y2="229.76" stroke="#1c1c1c" stroke-width="1.1"/>
<line x1="663.2" y1="233.62" x2="666.6" y2="233.62" stroke="#1c1c1c" stroke-width="1.1"/>
<line x1="663.2" y1="239.03" x2="666.6" y2="239.03" stroke="#1c1c1c" stroke-width="1.1"/>
<line x1="663.2" y1="251.59" x2="666.6" y2="251.59" stroke="#1c1c1c" stroke-width="1.1"/>
<line x1="663.2" y1="258.07" x2="666.6" y2="258.07" stroke="#1c1c1c" stroke-width="1.1"/>
<line x1="663.2" y1="266.76" x2="666.6" y2="266.76" stroke="#1c1c1c" stroke-width="1.1"/>
<line x1="661" y1="245.02" x2="666.6" y2="245.02" stroke="#1c1c1c" stroke-width="1.1"/>
<line x1="663.2" y1="304.35" x2="666.6" y2="304.35" stroke="#1c1c1c" stroke-width="1.2"/>
<line x1="663.2" y1="312.56" x2="666.6" y2="312.56" stroke="#1c1c1c" stroke-width="1.2"/>
<line x1="663.2" y1="320.2" x2="666.6" y2="320.2" stroke="#1c1c1c" stroke-width="1.2"/>
<line x1="663.2" y1="331.6" x2="666.6" y2="331.6" stroke="#1c1c1c" stroke-width="1.2"/>
<line x1="663.2" y1="337.01" x2="666.6" y2="337.01" stroke="#1c1c1c" stroke-width="1.2"/>
<line x1="661" y1="325.61" x2="666.6" y2="325.61" stroke="#1c1c1c" stroke-width="1.2"/>
<rect x="662" y="279.4" width="4.6" height="19.03" fill="#111"/>
<line x1="658.9" y1="280.36" x2="666.6" y2="280.36" stroke="#111" stroke-width="2.2"/>
<line x1="658.9" y1="285.68" x2="666.6" y2="285.68" stroke="#111" stroke-width="2.2"/>
<line x1="658.9" y1="289.06" x2="666.6" y2="289.06" stroke="#111" stroke-width="2.2"/>
<line x1="658.9" y1="292.44" x2="666.6" y2="292.44" stroke="#111" stroke-width="2.2"/>
<line x1="658.9" y1="297.27" x2="666.6" y2="297.27" stroke="#111" stroke-width="2.2"/>
<line x1="785.06" y1="340.1" x2="785.06" y2="347.4" stroke="#1c1c1c" stroke-width="2.2"/>
<line x1="857.03" y1="340.1" x2="857.03" y2="347.4" stroke="#1c1c1c" stroke-width="2.2"/>
<line x1="923.13" y1="340.1" x2="923.13" y2="347.4" stroke="#1c1c1c" stroke-width="2.2"/>
<line x1="806.73" y1="340.1" x2="806.73" y2="343.7" stroke="#1c1c1c" stroke-width="1.5"/>
<line x1="819.4" y1="340.1" x2="819.4" y2="343.7" stroke="#1c1c1c" stroke-width="1.5"/>
<line x1="828.39" y1="340.1" x2="828.39" y2="343.7" stroke="#1c1c1c" stroke-width="1.5"/>
<line x1="835.37" y1="340.1" x2="835.37" y2="344.7" stroke="#1c1c1c" stroke-width="1.5"/>
<line x1="841.06" y1="340.1" x2="841.06" y2="343.7" stroke="#1c1c1c" stroke-width="1.5"/>
<line x1="845.88" y1="340.1" x2="845.88" y2="343.7" stroke="#1c1c1c" stroke-width="1.5"/>
<line x1="850.06" y1="340.1" x2="850.06" y2="343.7" stroke="#1c1c1c" stroke-width="1.5"/>
<line x1="853.74" y1="340.1" x2="853.74" y2="343.7" stroke="#1c1c1c" stroke-width="1.5"/>
<line x1="876.93" y1="340.1" x2="876.93" y2="343.7" stroke="#1c1c1c" stroke-width="1.5"/>
<line x1="888.57" y1="340.1" x2="888.57" y2="343.7" stroke="#1c1c1c" stroke-width="1.5"/>
<line x1="896.83" y1="340.1" x2="896.83" y2="343.7" stroke="#1c1c1c" stroke-width="1.5"/>
<line x1="903.23" y1="340.1" x2="903.23" y2="344.7" stroke="#1c1c1c" stroke-width="1.5"/>
<line x1="908.47" y1="340.1" x2="908.47" y2="343.7" stroke="#1c1c1c" stroke-width="1.5"/>
<line x1="912.89" y1="340.1" x2="912.89" y2="343.7" stroke="#1c1c1c" stroke-width="1.5"/>
<line x1="916.72" y1="340.1" x2="916.72" y2="343.7" stroke="#1c1c1c" stroke-width="1.5"/>
<line x1="920.11" y1="340.1" x2="920.11" y2="343.7" stroke="#1c1c1c" stroke-width="1.5"/>
<line x1="943.03" y1="340.1" x2="943.03" y2="343.7" stroke="#1c1c1c" stroke-width="1.5"/>
<line x1="737.97" y1="340.1" x2="737.97" y2="343.7" stroke="#1c1c1c" stroke-width="1.5"/>
<line x1="747.83" y1="340.1" x2="747.83" y2="343.7" stroke="#1c1c1c" stroke-width="1.5"/>
<line x1="755.69" y1="340.1" x2="755.69" y2="343.7" stroke="#1c1c1c" stroke-width="1.5"/>
<line x1="768.54" y1="340.1" x2="768.54" y2="343.7" stroke="#1c1c1c" stroke-width="1.5"/>
<line x1="773.61" y1="340.1" x2="773.61" y2="343.7" stroke="#1c1c1c" stroke-width="1.5"/>
<line x1="777.59" y1="340.1" x2="777.59" y2="343.7" stroke="#1c1c1c" stroke-width="1.5"/>
<line x1="780.88" y1="340.1" x2="780.88" y2="343.7" stroke="#1c1c1c" stroke-width="1.5"/>
<line x1="762.46" y1="340.1" x2="762.46" y2="344.7" stroke="#1c1c1c" stroke-width="1.5"/>
<line x1="672.97" y1="340.1" x2="672.97" y2="343.9" stroke="#1c1c1c" stroke-width="1.5"/>
<line x1="679.64" y1="340.1" x2="679.64" y2="343.9" stroke="#1c1c1c" stroke-width="1.5"/>
<line x1="687.9" y1="340.1" x2="687.9" y2="343.9" stroke="#1c1c1c" stroke-width="1.5"/>
<line x1="696.46" y1="340.1" x2="696.46" y2="343.9" stroke="#1c1c1c" stroke-width="1.5"/>
<line x1="666.6" y1="340.1" x2="666.6" y2="345.1" stroke="#1c1c1c" stroke-width="1.8"/>
<rect x="705.42" y="340.1" width="22.8" height="4" fill="#111"/>
<line x1="706.52" y1="340.1" x2="706.52" y2="347.4" stroke="#111" stroke-width="2.2"/>
<line x1="717.07" y1="340.1" x2="717.07" y2="347.4" stroke="#111" stroke-width="2.2"/>
<line x1="727.12" y1="340.1" x2="727.12" y2="347.4" stroke="#111" stroke-width="2.2"/>
<line x1="712.09" y1="340.1" x2="712.09" y2="345.6" stroke="#111" stroke-width="1.6"/>
<line x1="722.05" y1="340.1" x2="722.05" y2="345.6" stroke="#111" stroke-width="1.6"/>
<rect x="666.6" y="59.6" width="285" height="280.5" fill="none" stroke="#222" stroke-width="1.5"/>
<text transform="translate(727 92)" font-size="40.5" fill="#111">iii</text>
<text transform="translate(946 92.2)" font-size="41.8" text-anchor="end" fill="#111">0.99%</text>
<ellipse cx="748" cy="238" rx="34" ry="11" fill="#505050" opacity="0.5"/>
<ellipse cx="746" cy="250" rx="34" ry="22" fill="#666" opacity="0.36"/>
<path d="M749.08 248.4L749.04 248.85L748.9 249.28L748.67 249.69L748.36 250.05L747.98 250.37L747.54 250.63L747.05 250.82L746.54 250.93L746 250.97L745.43 250.93L744.87 250.82L744.35 250.63L743.88 250.37L743.48 250.05L743.15 249.69L742.9 249.28L742.76 248.85L742.71 248.4L742.75 248.11L742.9 247.83L743.14 247.58L743.46 247.35L743.86 247.16L744.32 247L744.84 246.89L745.4 246.82L746 246.79L746.56 246.82L747.08 246.89L747.57 247L748.01 247.16L748.38 247.35L748.68 247.58L748.9 247.83L749.04 248.11Z" fill="none" stroke="#4e4e4e" stroke-width="0.95"/>
<path d="M749.89 248.4L749.83 248.96L749.66 249.51L749.37 250.02L748.98 250.49L748.5 250.89L747.95 251.21L747.33 251.45L746.68 251.6L746 251.65L745.28 251.6L744.58 251.45L743.92 251.21L743.33 250.89L742.82 250.49L742.4 250.02L742.09 249.51L741.91 248.96L741.84 248.4L741.9 248.03L742.09 247.68L742.38 247.36L742.79 247.08L743.29 246.83L743.87 246.63L744.53 246.49L745.24 246.4L746 246.37L746.72 246.4L747.38 246.49L747.99 246.63L748.54 246.83L749.01 247.08L749.39 247.36L749.67 247.68L749.84 248.03Z" fill="none" stroke="#4e4e4e" stroke-width="0.95"/>
<path d="M751.45 248.4L751.37 249.19L751.12 249.96L750.72 250.67L750.18 251.32L749.5 251.89L748.73 252.34L747.86 252.68L746.95 252.88L746 252.95L744.99 252.88L744.01 252.68L743.09 252.34L742.26 251.89L741.54 251.32L740.96 250.67L740.53 249.96L740.27 249.19L740.18 248.4L740.26 247.87L740.51 247.38L740.92 246.93L741.49 246.54L742.18 246.2L743 245.92L743.91 245.72L744.91 245.6L746 245.56L747.03 245.6L747.96 245.72L748.81 245.92L749.58 246.2L750.23 246.54L750.75 246.93L751.14 247.38L751.37 247.87Z" fill="none" stroke="#4e4e4e" stroke-width="0.95"/>
<path d="M753.52 248.4L753.41 249.49L753.07 250.55L752.51 251.54L751.76 252.44L750.83 253.21L749.76 253.84L748.57 254.3L747.31 254.58L746 254.68L744.6 254.58L743.25 254.3L741.98 253.84L740.84 253.21L739.85 252.44L739.04 251.54L738.45 250.55L738.09 249.49L737.97 248.4L738.08 247.64L738.42 246.97L738.98 246.35L739.74 245.81L740.69 245.35L741.81 244.97L743.06 244.7L744.45 244.53L746 244.48L747.46 244.53L748.75 244.7L749.93 244.97L750.97 245.35L751.86 245.81L752.57 246.35L753.1 246.97L753.41 247.64Z" fill="none" stroke="#4e4e4e" stroke-width="0.95"/>
<path d="M756.01 248.4L755.86 249.85L755.41 251.26L754.67 252.58L753.67 253.77L752.44 254.8L751.01 255.64L749.43 256.25L747.74 256.63L746 256.76L744.14 256.63L742.34 256.25L740.65 255.64L739.12 254.8L737.81 253.77L736.74 252.58L735.95 251.26L735.47 249.85L735.3 248.4L735.45 247.36L735.9 246.45L736.63 245.64L737.63 244.92L738.87 244.31L740.34 243.83L742.01 243.47L743.86 243.25L746 243.18L748 243.25L749.73 243.47L751.3 243.83L752.67 244.31L753.84 244.92L754.77 245.64L755.46 246.45L755.87 247.36Z" fill="none" stroke="#4e4e4e" stroke-width="0.95"/>
<path d="M758.88 248.4L758.68 250.27L758.1 252.08L757.15 253.77L755.87 255.31L754.28 256.63L752.44 257.71L750.4 258.5L748.24 258.99L746 259.15L743.61 258.99L741.3 258.5L739.12 257.71L737.16 256.63L735.46 255.31L734.09 253.77L733.07 252.08L732.45 250.27L732.24 248.4L732.43 247.01L732.99 245.84L733.91 244.8L735.17 243.89L736.75 243.12L738.62 242.5L740.75 242.05L743.15 241.78L746 241.68L748.67 241.78L750.91 242.05L752.91 242.5L754.66 243.12L756.14 243.89L757.32 244.8L758.18 245.84L758.7 247.01Z" fill="none" stroke="#4e4e4e" stroke-width="0.95"/>
<path d="M762.08 248.4L761.83 250.73L761.11 252.99L759.92 255.11L758.32 257.03L756.33 258.68L754.04 260.02L751.5 261.01L748.79 261.61L746 261.82L743.02 261.61L740.13 261.01L737.41 260.02L734.96 258.68L732.85 257.03L731.13 255.11L729.86 252.99L729.09 250.73L728.83 248.4L729.06 246.59L729.74 245.13L730.86 243.83L732.41 242.71L734.34 241.76L736.65 241.01L739.3 240.46L742.3 240.13L746 240.02L749.47 240.13L752.28 240.46L754.76 241.01L756.91 241.76L758.73 242.71L760.17 243.83L761.22 245.13L761.86 246.59Z" fill="none" stroke="#4e4e4e" stroke-width="0.95"/>
<path d="M765.58 248.4L765.29 251.24L764.4 253.99L762.96 256.57L761 258.91L758.59 260.92L755.79 262.56L752.7 263.76L749.4 264.5L746 264.75L742.37 264.5L738.85 263.76L735.54 262.56L732.55 260.92L729.98 258.91L727.88 256.57L726.34 253.99L725.4 251.24L725.08 248.4L725.35 246.11L726.16 244.31L727.5 242.75L729.34 241.4L731.66 240.27L734.42 239.37L737.63 238.72L741.31 238.32L746 238.19L750.39 238.32L753.84 238.72L756.84 239.37L759.43 240.27L761.6 241.4L763.32 242.75L764.57 244.31L765.33 246.11Z" fill="none" stroke="#4e4e4e" stroke-width="0.95"/>
<path d="M769.38 248.4L769.02 251.79L767.97 255.07L766.25 258.16L763.91 260.94L761.03 263.35L757.69 265.3L754 266.74L750.06 267.62L746 267.91L741.66 267.62L737.46 266.74L733.51 265.3L729.95 263.35L726.87 260.94L724.37 258.16L722.54 255.07L721.41 251.79L721.03 248.4L721.34 245.55L722.29 243.4L723.84 241.54L725.99 239.95L728.7 238.63L731.95 237.58L735.75 236.82L740.16 236.36L746 236.21L751.47 236.36L755.59 236.82L759.15 237.58L762.2 238.63L764.74 239.95L766.75 241.54L768.2 243.4L769.08 245.55Z" fill="none" stroke="#4e4e4e" stroke-width="0.95"/>
<path d="M773.44 248.4L773.03 252.38L771.79 256.23L769.77 259.85L767.02 263.12L763.64 265.95L759.72 268.24L755.39 269.92L750.77 270.96L746 271.31L740.91 270.96L735.97 269.92L731.34 268.24L727.16 265.95L723.55 263.12L720.61 259.85L718.46 256.23L717.13 252.38L716.69 248.4L717.05 244.91L718.12 242.38L719.9 240.22L722.36 238.38L725.47 236.86L729.24 235.66L733.66 234.79L738.85 234.27L746 234.09L752.69 234.27L757.55 234.79L761.69 235.66L765.22 236.86L768.14 238.38L770.44 240.22L772.1 242.38L773.11 244.91Z" fill="none" stroke="#4e4e4e" stroke-width="0.95"/>
<path d="M777.76 248.4L777.28 253L775.85 257.47L773.51 261.66L770.33 265.44L766.42 268.71L761.88 271.36L756.86 273.31L751.52 274.51L746 274.91L740.11 274.51L734.4 273.31L729.04 271.36L724.19 268.71L720.01 265.44L716.62 261.66L714.12 257.47L712.59 253L712.07 248.4L712.48 244.19L713.68 241.25L715.68 238.77L718.46 236.68L721.99 234.96L726.27 233.6L731.34 232.62L737.38 232.03L746 231.84L754.07 232.03L759.72 232.62L764.47 233.6L768.48 234.96L771.79 236.68L774.38 238.77L776.26 241.25L777.39 244.19Z" fill="none" stroke="#4e4e4e" stroke-width="0.95"/>
<path d="M782.33 248.4L781.78 253.67L780.14 258.77L777.46 263.56L773.83 267.89L769.35 271.63L764.17 274.66L758.43 276.89L752.31 278.26L746 278.72L739.26 278.26L732.73 276.89L726.6 274.66L721.06 271.63L716.27 267.89L712.39 263.56L709.54 258.77L707.78 253.67L707.2 248.4L707.64 243.38L708.98 240.01L711.21 237.2L714.3 234.85L718.25 232.92L723.06 231.42L728.81 230.33L735.72 229.68L746 229.46L755.63 229.68L762.1 230.33L767.47 231.42L771.98 232.92L775.68 234.85L778.57 237.2L780.66 240.01L781.91 243.38Z" fill="none" stroke="#4e4e4e" stroke-width="0.95"/>
<path d="M787.13 248.4L786.51 254.36L784.65 260.14L781.62 265.56L777.51 270.47L772.44 274.7L766.57 278.13L760.07 280.66L753.14 282.21L746 282.73L738.37 282.21L730.97 280.66L724.03 278.13L717.76 274.7L712.35 270.47L707.95 265.56L704.72 260.14L702.74 254.36L702.07 248.4L702.56 242.48L704.03 238.66L706.48 235.52L709.89 232.9L714.26 230.77L719.61 229.11L726.04 227.91L733.87 227.19L746 226.95L757.35 227.19L764.69 227.91L770.71 229.11L775.72 230.77L779.81 232.9L783 235.52L785.29 238.66L786.67 242.48Z" fill="none" stroke="#4e4e4e" stroke-width="0.95"/>
<path d="M792.16 248.4L791.46 255.09L789.37 261.58L785.97 267.66L781.36 273.16L775.67 277.91L769.08 281.76L761.79 284.6L754.02 286.34L746 286.92L737.44 286.34L729.14 284.6L721.35 281.76L714.31 277.91L708.23 273.16L703.3 267.66L699.67 261.58L697.45 255.09L696.7 248.4L697.23 241.48L698.84 237.19L701.5 233.71L705.22 230.83L710.01 228.49L715.91 226.68L723.04 225.38L731.83 224.59L746 224.33L759.27 224.59L767.5 225.38L774.17 226.68L779.69 228.49L784.18 230.83L787.66 233.71L790.16 237.19L791.66 241.48Z" fill="none" stroke="#4e4e4e" stroke-width="0.95"/>
<path d="M797.4 248.4L796.62 255.85L794.3 263.07L790.51 269.85L785.37 275.98L779.04 281.26L771.7 285.55L763.58 288.71L754.93 290.65L746 291.3L736.47 290.65L727.22 288.71L718.55 285.55L710.71 281.26L703.94 275.98L698.46 269.85L694.41 263.07L691.93 255.85L691.1 248.4L691.68 240.39L693.41 235.61L696.28 231.78L700.32 228.64L705.52 226.1L711.96 224.13L719.8 222.73L729.59 221.88L746 221.6L761.37 221.88L770.53 222.73L777.87 224.13L783.9 226.1L788.77 228.64L792.55 231.78L795.24 235.61L796.86 240.39Z" fill="none" stroke="#4e4e4e" stroke-width="0.95"/>
<ellipse cx="746.3" cy="248.6" rx="5.5" ry="2.8" transform="rotate(8 746.3 248.6)" fill="#fff" stroke="#4e4e4e" stroke-width=".8"/>
<path d="M823.4 162.2L855.8 202.6L842.4 229L805.8 243.9L775.3 199.8Z" fill="none" stroke="#111" stroke-width="1.9" stroke-linejoin="miter"/>
<line x1="22.3" y1="74" x2="22.3" y2="211.6" stroke="#111" stroke-width="3.6"/>
<path d="M22.3 53.2L35.6 76L9 76Z" fill="#111"/>
<text transform="translate(33.3 332.3) rotate(-90)" font-size="41.5" fill="#111">Foxp3</text>
<text transform="translate(53.5 397.3)" font-size="41" fill="#111">CD25</text>
<line x1="164.7" y1="383" x2="920" y2="383" stroke="#111" stroke-width="3.6"/>
<path d="M942 383L922.5 369.4L922.5 396.6Z" fill="#111"/>
<text transform="translate(995.1 30.8)" font-size="42" font-weight="bold" stroke-width="0" fill="#111">B</text>
<line x1="1087" y1="353.3" x2="1402.7" y2="353.3" stroke="#111" stroke-width="2.4"/>
<line x1="1102.8" y1="52.8" x2="1102.8" y2="354.5" stroke="#111" stroke-width="2.4"/>
<line x1="1087.1" y1="54" x2="1102.8" y2="54" stroke="#111" stroke-width="2.4"/>
<text transform="translate(1082.8 68.28)" font-size="42" text-anchor="end" fill="#111"><tspan letter-spacing="-1.6">1</tspan>5</text>
<line x1="1087.1" y1="153.77" x2="1102.8" y2="153.77" stroke="#111" stroke-width="2.4"/>
<text transform="translate(1082.8 168.05)" font-size="42" text-anchor="end" fill="#111"><tspan letter-spacing="-1.6">1</tspan>0</text>
<line x1="1087.1" y1="253.53" x2="1102.8" y2="253.53" stroke="#111" stroke-width="2.4"/>
<text transform="translate(1082.8 267.81)" font-size="42" text-anchor="end" fill="#111">5</text>
<line x1="1087.1" y1="353.3" x2="1102.8" y2="353.3" stroke="#111" stroke-width="2.4"/>
<text transform="translate(1082.8 367.58)" font-size="42" text-anchor="end" fill="#111">0</text>
<line x1="1152" y1="353.3" x2="1152" y2="368" stroke="#111" stroke-width="2.4"/>
<line x1="1251.6" y1="353.3" x2="1251.6" y2="368" stroke="#111" stroke-width="2.4"/>
<line x1="1351.2" y1="353.3" x2="1351.2" y2="368" stroke="#111" stroke-width="2.4"/>
<circle cx="1151.99" cy="168.71" r="5.3" fill="#111"/>
<circle cx="1167.11" cy="182.15" r="5.3" fill="#111"/>
<circle cx="1151.99" cy="196.07" r="5.3" fill="#111"/>
<circle cx="1151.99" cy="213.59" r="5.3" fill="#111"/>
<circle cx="1167.11" cy="215.03" r="5.3" fill="#111"/>
<circle cx="1151.99" cy="229.9" r="5.3" fill="#111"/>
<circle cx="1136.88" cy="243.1" r="5.3" fill="#111"/>
<circle cx="1151.99" cy="247.9" r="5.3" fill="#111"/>
<circle cx="1151.99" cy="268.54" r="5.3" fill="#111"/>
<rect x="1230.93" y="151.17" width="10.6" height="10.6" fill="#111"/>
<rect x="1246.29" y="152.13" width="10.6" height="10.6" fill="#111"/>
<rect x="1230.93" y="205.89" width="10.6" height="10.6" fill="#111"/>
<rect x="1253.73" y="203.49" width="10.6" height="10.6" fill="#111"/>
<rect x="1261.41" y="209.97" width="10.6" height="10.6" fill="#111"/>
<rect x="1246.29" y="216.68" width="10.6" height="10.6" fill="#111"/>
<rect x="1230.93" y="231.08" width="10.6" height="10.6" fill="#111"/>
<rect x="1246.29" y="238.04" width="10.6" height="10.6" fill="#111"/>
<rect x="1230.93" y="257.48" width="10.6" height="10.6" fill="#111"/>
<rect x="1246.29" y="263.48" width="10.6" height="10.6" fill="#111"/>
<rect x="1261.41" y="262.76" width="10.6" height="10.6" fill="#111"/>
<rect x="1230.93" y="281" width="10.6" height="10.6" fill="#111"/>
<rect x="1261.41" y="277.4" width="10.6" height="10.6" fill="#111"/>
<rect x="1246.29" y="284.6" width="10.6" height="10.6" fill="#111"/>
<rect x="1238.61" y="294.68" width="10.6" height="10.6" fill="#111"/>
<rect x="1230.93" y="302.36" width="10.6" height="10.6" fill="#111"/>
<rect x="1253.73" y="301.4" width="10.6" height="10.6" fill="#111"/>
<rect x="1261.41" y="303.8" width="10.6" height="10.6" fill="#111"/>
<rect x="1246.29" y="308.6" width="10.6" height="10.6" fill="#111"/>
<path d="M1343.5 254.66L1348.75 264.66L1338.25 264.66Z" fill="#111"/>
<path d="M1335.82 260.66L1341.07 270.66L1330.57 270.66Z" fill="#111"/>
<path d="M1351.18 260.66L1356.43 270.66L1345.93 270.66Z" fill="#111"/>
<path d="M1366.54 256.58L1371.79 266.58L1361.29 266.58Z" fill="#111"/>
<path d="M1335.82 293.78L1341.07 303.78L1330.57 303.78Z" fill="#111"/>
<path d="M1358.86 291.38L1364.11 301.38L1353.61 301.38Z" fill="#111"/>
<path d="M1351.18 303.38L1356.43 313.38L1345.93 313.38Z" fill="#111"/>
<path d="M1366.54 304.1L1371.79 314.1L1361.29 314.1Z" fill="#111"/>
<path d="M1351.18 321.86L1356.43 331.86L1345.93 331.86Z" fill="#111"/>
<path d="M1335.82 345.37L1341.07 355.37L1330.57 355.37Z" fill="#111"/>
<path d="M1351.18 348.25L1356.43 358.25L1345.93 358.25Z" fill="#111"/>
<path d="M1366.54 345.37L1371.79 355.37L1361.29 355.37Z" fill="#111"/>
<line x1="1118" y1="218.38" x2="1186" y2="218.38" stroke="#111" stroke-width="2.4"/>
<line x1="1134.5" y1="207.11" x2="1169.5" y2="207.11" stroke="#111" stroke-width="2.4"/>
<line x1="1134.5" y1="228.94" x2="1169.5" y2="228.94" stroke="#111" stroke-width="2.4"/>
<line x1="1152" y1="207.11" x2="1152" y2="228.94" stroke="#111" stroke-width="2.4"/>
<line x1="1217.6" y1="254.62" x2="1285.6" y2="254.62" stroke="#111" stroke-width="2.4"/>
<line x1="1234.1" y1="243.1" x2="1269.1" y2="243.1" stroke="#111" stroke-width="2.4"/>
<line x1="1234.1" y1="266.14" x2="1269.1" y2="266.14" stroke="#111" stroke-width="2.4"/>
<line x1="1251.6" y1="243.1" x2="1251.6" y2="266.14" stroke="#111" stroke-width="2.4"/>
<line x1="1317.2" y1="303.34" x2="1385.2" y2="303.34" stroke="#111" stroke-width="2.4"/>
<line x1="1333.7" y1="293.26" x2="1368.7" y2="293.26" stroke="#111" stroke-width="2.4"/>
<line x1="1333.7" y1="313.9" x2="1368.7" y2="313.9" stroke="#111" stroke-width="2.4"/>
<line x1="1351.2" y1="293.26" x2="1351.2" y2="313.9" stroke="#111" stroke-width="2.4"/>
<line x1="1153.4" y1="69.8" x2="1366.3" y2="69.8" stroke="#111" stroke-width="2.4"/>
<line x1="1243.4" y1="127.4" x2="1356" y2="127.4" stroke="#111" stroke-width="2.4"/>
<text transform="translate(1260.5 74.5)" font-size="40" text-anchor="middle" letter-spacing="1.6" stroke-width="0.1" fill="#111">***</text>
<text transform="translate(1301.6 130.5)" font-size="40" text-anchor="middle" letter-spacing="1.6" stroke-width="0.1" fill="#111">**</text>
<text transform="translate(1026 255.5) rotate(-90)" font-size="42" fill="#111">T<tspan font-size="31" dy="9.3" dx="-2.5">reg</tspan><tspan dy="-9.3">%</tspan></text>
<text transform="translate(1170.05 396.7) rotate(-45)" font-size="41" text-anchor="end" fill="#111">Ctrl</text>
<text transform="translate(1275.4 391.7) rotate(-45)" font-size="41" text-anchor="end" letter-spacing="1" fill="#111">non-GVHD</text>
<text transform="translate(1372.6 389.5) rotate(-45)" font-size="41" text-anchor="end" letter-spacing="1.3" fill="#111">aGVHD</text>
<text transform="translate(7 591.7) scale(0.94 1)" font-size="42" font-weight="bold" stroke-width="0" fill="#111">C</text>
<line x1="105.9" y1="918.6" x2="321" y2="918.6" stroke="#111" stroke-width="2.4"/>
<line x1="120.8" y1="618.4" x2="120.8" y2="919.8" stroke="#111" stroke-width="2.4"/>
<line x1="105.1" y1="619.6" x2="120.8" y2="619.6" stroke="#111" stroke-width="2.4"/>
<text transform="translate(100.8 633.88)" font-size="42" text-anchor="end" fill="#111">5</text>
<line x1="105.1" y1="679.4" x2="120.8" y2="679.4" stroke="#111" stroke-width="2.4"/>
<text transform="translate(100.8 693.68)" font-size="42" text-anchor="end" fill="#111">4</text>
<line x1="105.1" y1="739.2" x2="120.8" y2="739.2" stroke="#111" stroke-width="2.4"/>
<text transform="translate(100.8 753.48)" font-size="42" text-anchor="end" fill="#111">3</text>
<line x1="105.1" y1="799" x2="120.8" y2="799" stroke="#111" stroke-width="2.4"/>
<text transform="translate(100.8 813.28)" font-size="42" text-anchor="end" fill="#111">2</text>
<line x1="105.1" y1="858.8" x2="120.8" y2="858.8" stroke="#111" stroke-width="2.4"/>
<text transform="translate(100.8 873.08)" font-size="42" text-anchor="end" fill="#111">1</text>
<line x1="105.1" y1="918.6" x2="120.8" y2="918.6" stroke="#111" stroke-width="2.4"/>
<text transform="translate(100.8 932.88)" font-size="42" text-anchor="end" fill="#111">0</text>
<line x1="170.3" y1="918.6" x2="170.3" y2="934.5" stroke="#111" stroke-width="2.4"/>
<line x1="270.3" y1="918.6" x2="270.3" y2="934.5" stroke="#111" stroke-width="2.4"/>
<circle cx="154.82" cy="651.96" r="5.3" fill="#111"/>
<circle cx="170.61" cy="653.82" r="5.3" fill="#111"/>
<circle cx="185.79" cy="641.44" r="5.3" fill="#111"/>
<circle cx="170.61" cy="754.46" r="5.3" fill="#111"/>
<circle cx="185.79" cy="745.79" r="5.3" fill="#111"/>
<rect x="264.09" y="781.36" width="10.6" height="10.6" fill="#111"/>
<rect x="279.88" y="776.72" width="10.6" height="10.6" fill="#111"/>
<rect x="264.09" y="829.36" width="10.6" height="10.6" fill="#111"/>
<rect x="249.23" y="903.67" width="10.6" height="10.6" fill="#111"/>
<rect x="264.09" y="908.62" width="10.6" height="10.6" fill="#111"/>
<rect x="279.88" y="906.15" width="10.6" height="10.6" fill="#111"/>
<line x1="136.3" y1="689.43" x2="204.3" y2="689.43" stroke="#111" stroke-width="2.4"/>
<line x1="152.8" y1="664.66" x2="187.8" y2="664.66" stroke="#111" stroke-width="2.4"/>
<line x1="152.8" y1="713.89" x2="187.8" y2="713.89" stroke="#111" stroke-width="2.4"/>
<line x1="170.3" y1="664.66" x2="170.3" y2="713.89" stroke="#111" stroke-width="2.4"/>
<line x1="236.3" y1="856.33" x2="304.3" y2="856.33" stroke="#111" stroke-width="2.4"/>
<line x1="252.8" y1="830.94" x2="287.8" y2="830.94" stroke="#111" stroke-width="2.4"/>
<line x1="252.8" y1="882.65" x2="287.8" y2="882.65" stroke="#111" stroke-width="2.4"/>
<line x1="270.3" y1="830.94" x2="270.3" y2="882.65" stroke="#111" stroke-width="2.4"/>
<line x1="171.85" y1="622.24" x2="274.04" y2="622.24" stroke="#111" stroke-width="2.4"/>
<text transform="translate(223.74 626)" font-size="40" text-anchor="middle" letter-spacing="1.6" stroke-width="0.1" fill="#111">**</text>
<text transform="translate(41.5 820.5) rotate(-90)" font-size="42" fill="#111">T<tspan font-size="31" dy="9.9" dx="-2.5">reg</tspan><tspan dy="-9.9">%</tspan></text>
<text transform="translate(182.1 958.7) rotate(-45)" font-size="41" text-anchor="end" fill="#111">a<tspan letter-spacing="-2.4">GVH</tspan>D I°</text>
<text transform="translate(304.1 956.6) rotate(-45)" font-size="41" text-anchor="end" fill="#111">a<tspan letter-spacing="-2.7">GVH</tspan>D II-IV°</text>
<text transform="translate(448 591.3)" font-size="42" font-weight="bold" stroke-width="0" fill="#111">D</text>
<line x1="590.1" y1="783" x2="590.1" y2="803" stroke="#111" stroke-width="2.4"/>
<line x1="582.23" y1="783" x2="597.97" y2="783" stroke="#111" stroke-width="2.4"/>
<rect x="577.4" y="803" width="25.4" height="212.2" fill="#fff" stroke="#111" stroke-width="2.4"/>
<line x1="629.75" y1="786" x2="629.75" y2="806.8" stroke="#111" stroke-width="2.4"/>
<line x1="621.85" y1="786" x2="637.65" y2="786" stroke="#111" stroke-width="2.4"/>
<rect x="617" y="806.8" width="25.5" height="208.4" fill="#5b5b5b" stroke="#111" stroke-width="2.4"/>
<line x1="669.65" y1="964.7" x2="669.65" y2="974" stroke="#111" stroke-width="2.4"/>
<line x1="661.56" y1="964.7" x2="677.74" y2="964.7" stroke="#111" stroke-width="2.4"/>
<rect x="656.6" y="974" width="26.1" height="41.2" fill="#111" stroke="#111" stroke-width="2.4"/>
<line x1="736.55" y1="824.7" x2="736.55" y2="835" stroke="#111" stroke-width="2.4"/>
<line x1="728.64" y1="824.7" x2="744.45" y2="824.7" stroke="#111" stroke-width="2.4"/>
<rect x="723.8" y="835" width="25.5" height="180.2" fill="#fff" stroke="#111" stroke-width="2.4"/>
<line x1="776.3" y1="822" x2="776.3" y2="844.3" stroke="#111" stroke-width="2.4"/>
<line x1="768.67" y1="822" x2="783.93" y2="822" stroke="#111" stroke-width="2.4"/>
<rect x="764" y="844.3" width="24.6" height="170.9" fill="#5b5b5b" stroke="#111" stroke-width="2.4"/>
<line x1="815.8" y1="921.7" x2="815.8" y2="932.2" stroke="#111" stroke-width="2.4"/>
<line x1="807.74" y1="921.7" x2="823.86" y2="921.7" stroke="#111" stroke-width="2.4"/>
<rect x="802.8" y="932.2" width="26" height="83" fill="#111" stroke="#111" stroke-width="2.4"/>
<line x1="541.5" y1="1015.2" x2="852.7" y2="1015.2" stroke="#111" stroke-width="2.4"/>
<line x1="557.6" y1="715.2" x2="557.6" y2="1016.4" stroke="#111" stroke-width="2.4"/>
<line x1="541.9" y1="716.4" x2="557.6" y2="716.4" stroke="#111" stroke-width="2.4"/>
<text transform="translate(537.6 730.68)" font-size="42" text-anchor="end" fill="#111"><tspan letter-spacing="-1.6">1</tspan>0</text>
<line x1="541.9" y1="776.16" x2="557.6" y2="776.16" stroke="#111" stroke-width="2.4"/>
<text transform="translate(537.6 790.44)" font-size="42" text-anchor="end" fill="#111">8</text>
<line x1="541.9" y1="835.92" x2="557.6" y2="835.92" stroke="#111" stroke-width="2.4"/>
<text transform="translate(537.6 850.2)" font-size="42" text-anchor="end" fill="#111">6</text>
<line x1="541.9" y1="895.68" x2="557.6" y2="895.68" stroke="#111" stroke-width="2.4"/>
<text transform="translate(537.6 909.96)" font-size="42" text-anchor="end" fill="#111">4</text>
<line x1="541.9" y1="955.44" x2="557.6" y2="955.44" stroke="#111" stroke-width="2.4"/>
<text transform="translate(537.6 969.72)" font-size="42" text-anchor="end" fill="#111">2</text>
<line x1="541.9" y1="1015.2" x2="557.6" y2="1015.2" stroke="#111" stroke-width="2.4"/>
<text transform="translate(537.6 1029.48)" font-size="42" text-anchor="end" fill="#111">0</text>
<line x1="629.7" y1="1015.2" x2="629.7" y2="1030" stroke="#111" stroke-width="2.4"/>
<line x1="775.9" y1="1015.2" x2="775.9" y2="1030" stroke="#111" stroke-width="2.4"/>
<text transform="translate(628.5 1074)" font-size="36.5" text-anchor="middle" fill="#111">BM</text>
<text transform="translate(776.3 1076)" font-size="36.5" text-anchor="middle" fill="#111">PB</text>
<line x1="672.5" y1="806.8" x2="816.1" y2="806.8" stroke="#111" stroke-width="2.4"/>
<text transform="translate(747.4 808)" font-size="39" text-anchor="middle" stroke-width="0.1" fill="#111">*</text>
<text transform="translate(481 928) rotate(-90)" font-size="42" fill="#111">Treg%</text>
<rect x="578.8" y="585.3" width="52.9" height="20" fill="#fff" stroke="#111" stroke-width="2.4"/>
<rect x="578.8" y="633.2" width="52.9" height="19.6" fill="#5b5b5b" stroke="#111" stroke-width="2.4"/>
<line x1="577.6" y1="634.4" x2="632.9" y2="634.4" stroke="#111" stroke-width="4.6"/>
<rect x="578.8" y="674.1" width="52.9" height="19.5" fill="#111" stroke="#111" stroke-width="2.4"/>
<text transform="translate(662.5 608)" font-size="33.8" fill="#111">Ctrl</text>
<text transform="translate(662.5 653.8)" font-size="33.8" letter-spacing="0.3" fill="#111">non-GVHD</text>
<text transform="translate(662.5 695.3)" font-size="33.8" fill="#111">aGVHD</text>
<text transform="translate(996.5 590.5) scale(0.76 1)" font-size="44.7" font-weight="bold" stroke-width="0" fill="#111">E</text>
<line x1="1092.4" y1="1014.1" x2="1404.2" y2="1014.1" stroke="#111" stroke-width="2.4"/>
<line x1="1108.4" y1="714" x2="1108.4" y2="1015.3" stroke="#111" stroke-width="2.4"/>
<line x1="1092.7" y1="715.2" x2="1108.4" y2="715.2" stroke="#111" stroke-width="2.4"/>
<text transform="translate(1088.4 729.48)" font-size="42" text-anchor="end" fill="#111"><tspan letter-spacing="-1.6">1</tspan>0</text>
<line x1="1092.7" y1="774.98" x2="1108.4" y2="774.98" stroke="#111" stroke-width="2.4"/>
<text transform="translate(1088.4 789.26)" font-size="42" text-anchor="end" fill="#111">8</text>
<line x1="1092.7" y1="834.76" x2="1108.4" y2="834.76" stroke="#111" stroke-width="2.4"/>
<text transform="translate(1088.4 849.04)" font-size="42" text-anchor="end" fill="#111">6</text>
<line x1="1092.7" y1="894.54" x2="1108.4" y2="894.54" stroke="#111" stroke-width="2.4"/>
<text transform="translate(1088.4 908.82)" font-size="42" text-anchor="end" fill="#111">4</text>
<line x1="1092.7" y1="954.32" x2="1108.4" y2="954.32" stroke="#111" stroke-width="2.4"/>
<text transform="translate(1088.4 968.6)" font-size="42" text-anchor="end" fill="#111">2</text>
<line x1="1092.7" y1="1014.1" x2="1108.4" y2="1014.1" stroke="#111" stroke-width="2.4"/>
<text transform="translate(1088.4 1028.38)" font-size="42" text-anchor="end" fill="#111">0</text>
<line x1="1108.2" y1="1014.1" x2="1108.2" y2="1029.3" stroke="#111" stroke-width="2.4"/>
<text transform="translate(1108.2 1070.5)" font-size="42" text-anchor="middle" fill="#111">0</text>
<line x1="1206.9" y1="1014.1" x2="1206.9" y2="1029.3" stroke="#111" stroke-width="2.4"/>
<text transform="translate(1206.9 1070.5)" font-size="42" text-anchor="middle" fill="#111">1</text>
<line x1="1305" y1="1014.1" x2="1305" y2="1029.3" stroke="#111" stroke-width="2.4"/>
<text transform="translate(1305 1070.5)" font-size="42" text-anchor="middle" fill="#111">2</text>
<line x1="1403" y1="1014.1" x2="1403" y2="1029.3" stroke="#111" stroke-width="2.4"/>
<text transform="translate(1403 1070.5)" font-size="42" text-anchor="middle" fill="#111">3</text>
<line x1="1206.5" y1="802.6" x2="1305.2" y2="758.4" stroke="#111" stroke-width="2.6"/>
<rect x="1201.25" y="797.35" width="10.5" height="10.5" fill="#111"/>
<rect x="1299.95" y="753.15" width="10.5" height="10.5" fill="#111"/>
<line x1="1206.5" y1="819.5" x2="1305.2" y2="758.4" stroke="#111" stroke-width="2.6"/>
<rect x="1201.25" y="814.25" width="10.5" height="10.5" fill="#111"/>
<rect x="1299.95" y="753.15" width="10.5" height="10.5" fill="#111"/>
<line x1="1206.5" y1="836.2" x2="1305.2" y2="803" stroke="#111" stroke-width="2.6"/>
<rect x="1201.25" y="830.95" width="10.5" height="10.5" fill="#111"/>
<rect x="1299.95" y="797.75" width="10.5" height="10.5" fill="#111"/>
<line x1="1206.5" y1="880.5" x2="1305.2" y2="849.6" stroke="#111" stroke-width="2.6"/>
<rect x="1201.25" y="875.25" width="10.5" height="10.5" fill="#111"/>
<rect x="1299.95" y="844.35" width="10.5" height="10.5" fill="#111"/>
<line x1="1206.5" y1="857.4" x2="1305.2" y2="816.4" stroke="#111" stroke-width="2.6"/>
<line x1="1206.5" y1="860.4" x2="1305.2" y2="829.5" stroke="#111" stroke-width="2.6"/>
<line x1="1206.5" y1="871.2" x2="1305.2" y2="849.6" stroke="#111" stroke-width="2.6"/>
<line x1="1206.5" y1="880.5" x2="1305.2" y2="816.4" stroke="#111" stroke-width="2.6"/>
<circle cx="1206.5" cy="857.4" r="7.3" fill="none" stroke="#111" stroke-width="2.5"/>
<circle cx="1305.2" cy="816.4" r="7.3" fill="none" stroke="#111" stroke-width="2.5"/>
<circle cx="1206.5" cy="860.4" r="7.3" fill="none" stroke="#111" stroke-width="2.5"/>
<circle cx="1305.2" cy="829.5" r="7.3" fill="none" stroke="#111" stroke-width="2.5"/>
<circle cx="1206.5" cy="871.2" r="7.3" fill="none" stroke="#111" stroke-width="2.5"/>
<circle cx="1305.2" cy="849.6" r="7.3" fill="none" stroke="#111" stroke-width="2.5"/>
<circle cx="1206.5" cy="880.5" r="7.3" fill="none" stroke="#111" stroke-width="2.5"/>
<circle cx="1305.2" cy="816.4" r="7.3" fill="none" stroke="#111" stroke-width="2.5"/>
<line x1="1206.5" y1="920" x2="1305.2" y2="949.7" stroke="#111" stroke-width="2.5" stroke-dasharray="5.4 2.4"/>
<path d="M1206.5 914.2L1211.75 923.8L1201.25 923.8Z" fill="#111"/>
<path d="M1305.2 943.9L1310.45 953.5L1299.95 953.5Z" fill="#111"/>
<line x1="1206.5" y1="930.5" x2="1305.2" y2="994.4" stroke="#111" stroke-width="2.5" stroke-dasharray="5.4 2.4"/>
<path d="M1206.5 924.7L1211.75 934.3L1201.25 934.3Z" fill="#111"/>
<path d="M1305.2 988.6L1310.45 998.2L1299.95 998.2Z" fill="#111"/>
<line x1="1206.5" y1="947.8" x2="1305.2" y2="984.9" stroke="#111" stroke-width="2.5" stroke-dasharray="5.4 2.4"/>
<path d="M1206.5 942L1211.75 951.6L1201.25 951.6Z" fill="#111"/>
<path d="M1305.2 979.1L1310.45 988.7L1299.95 988.7Z" fill="#111"/>
<line x1="1206.5" y1="962.5" x2="1305.2" y2="994.4" stroke="#111" stroke-width="2.5" stroke-dasharray="5.4 2.4"/>
<path d="M1206.5 956.7L1211.75 966.3L1201.25 966.3Z" fill="#111"/>
<path d="M1305.2 988.6L1310.45 998.2L1299.95 998.2Z" fill="#111"/>
<text transform="translate(1030.8 916.9) rotate(-90)" font-size="42" fill="#111">T<tspan font-size="31" dy="9.3" dx="-2.5">reg</tspan><tspan dy="-9.3">%</tspan></text>
<line x1="1081.1" y1="588.9" x2="1137.2" y2="588.9" stroke="#111" stroke-width="2.4"/>
<rect x="1101.85" y="581.25" width="15.3" height="15.3" fill="#111"/>
<line x1="1081.1" y1="630.4" x2="1137.2" y2="630.4" stroke="#111" stroke-width="2.5" stroke-dasharray="5.4 2.4"/>
<path d="M1109.4 623.7L1117.4 638.5L1101.4 638.5Z" fill="#111"/>
<line x1="1082.8" y1="673.9" x2="1138.7" y2="673.9" stroke="#111" stroke-width="2.4"/>
<circle cx="1110.3" cy="673.9" r="7" fill="#fff" stroke="#111" stroke-width="2.4"/>
<text transform="translate(1166 601.7)" font-size="42" fill="#111">Ctrl</text>
<text transform="translate(1166 647.5)" font-size="42" letter-spacing="-1.2" fill="#111">aGVHD</text>
<text transform="translate(1167 687.5)" font-size="42" letter-spacing="-0.9" fill="#111">non-GVHD</text>
<text transform="translate(4.3 1208.9)" font-size="42" font-weight="bold" stroke-width="0" fill="#111">F</text>
<line x1="167.05" y1="1255.4" x2="167.05" y2="1285.4" stroke="#111" stroke-width="2.4"/>
<line x1="150.05" y1="1255.4" x2="184.05" y2="1255.4" stroke="#111" stroke-width="2.4"/>
<rect x="135" y="1285.4" width="64.1" height="222.6" fill="#111" stroke="#111" stroke-width="2.4"/>
<line x1="265.55" y1="1396.3" x2="265.55" y2="1415.5" stroke="#111" stroke-width="2.4"/>
<line x1="248.05" y1="1396.3" x2="283.05" y2="1396.3" stroke="#111" stroke-width="2.4"/>
<rect x="234.1" y="1415.5" width="62.9" height="92.5" fill="#fff" stroke="#111" stroke-width="2.4"/>
<line x1="103.1" y1="1508" x2="315.8" y2="1508" stroke="#111" stroke-width="2.4"/>
<line x1="118.3" y1="1207.4" x2="118.3" y2="1509.2" stroke="#111" stroke-width="2.4"/>
<line x1="102.6" y1="1208.6" x2="118.3" y2="1208.6" stroke="#111" stroke-width="2.4"/>
<text transform="translate(98.3 1222.88)" font-size="42" text-anchor="end" fill="#111"><tspan letter-spacing="-1.6">1</tspan>0</text>
<line x1="102.6" y1="1268.48" x2="118.3" y2="1268.48" stroke="#111" stroke-width="2.4"/>
<text transform="translate(98.3 1282.76)" font-size="42" text-anchor="end" fill="#111">8</text>
<line x1="102.6" y1="1328.36" x2="118.3" y2="1328.36" stroke="#111" stroke-width="2.4"/>
<text transform="translate(98.3 1342.64)" font-size="42" text-anchor="end" fill="#111">6</text>
<line x1="102.6" y1="1388.24" x2="118.3" y2="1388.24" stroke="#111" stroke-width="2.4"/>
<text transform="translate(98.3 1402.52)" font-size="42" text-anchor="end" fill="#111">4</text>
<line x1="102.6" y1="1448.12" x2="118.3" y2="1448.12" stroke="#111" stroke-width="2.4"/>
<text transform="translate(98.3 1462.4)" font-size="42" text-anchor="end" fill="#111">2</text>
<line x1="102.6" y1="1508" x2="118.3" y2="1508" stroke="#111" stroke-width="2.4"/>
<text transform="translate(98.3 1522.28)" font-size="42" text-anchor="end" fill="#111">0</text>
<line x1="167.2" y1="1508" x2="167.2" y2="1523" stroke="#111" stroke-width="2.4"/>
<line x1="266.3" y1="1508" x2="266.3" y2="1523" stroke="#111" stroke-width="2.4"/>
<line x1="163.5" y1="1226" x2="268.8" y2="1226" stroke="#111" stroke-width="2.4"/>
<text transform="translate(218.3 1227)" font-size="39" text-anchor="middle" stroke-width="0.1" fill="#111">*</text>
<text transform="translate(55 1414.3) rotate(-90)" font-size="42" letter-spacing="-1.2" fill="#111">RTE%</text>
<text transform="translate(180.5 1562.9) rotate(-45)" font-size="41" text-anchor="end" fill="#111">Ctrl BM</text>
<text transform="translate(279.6 1562.9) rotate(-45)" font-size="41" text-anchor="end" letter-spacing="0.6" fill="#111">aGVHD BM</text>
<text transform="translate(449.5 1208.4)" font-size="42" font-weight="bold" stroke-width="0" fill="#111">G</text>
<line x1="592.6" y1="1503.1" x2="804.7" y2="1503.1" stroke="#111" stroke-width="2.4"/>
<line x1="607.4" y1="1203.7" x2="607.4" y2="1504.3" stroke="#111" stroke-width="2.4"/>
<line x1="591.7" y1="1204.9" x2="607.4" y2="1204.9" stroke="#111" stroke-width="2.4"/>
<text transform="translate(587.4 1218.26)" font-size="39.3" text-anchor="end" fill="#111"><tspan letter-spacing="-1.7">8</tspan>0</text>
<line x1="591.7" y1="1279.45" x2="607.4" y2="1279.45" stroke="#111" stroke-width="2.4"/>
<text transform="translate(587.4 1292.81)" font-size="39.3" text-anchor="end" fill="#111"><tspan letter-spacing="-1.7">6</tspan>0</text>
<line x1="591.7" y1="1354" x2="607.4" y2="1354" stroke="#111" stroke-width="2.4"/>
<text transform="translate(587.4 1367.36)" font-size="39.3" text-anchor="end" fill="#111"><tspan letter-spacing="-1.7">4</tspan>0</text>
<line x1="591.7" y1="1428.55" x2="607.4" y2="1428.55" stroke="#111" stroke-width="2.4"/>
<text transform="translate(587.4 1441.91)" font-size="39.3" text-anchor="end" fill="#111"><tspan letter-spacing="-1.7">2</tspan>0</text>
<line x1="591.7" y1="1503.1" x2="607.4" y2="1503.1" stroke="#111" stroke-width="2.4"/>
<text transform="translate(587.4 1516.46)" font-size="39.3" text-anchor="end" fill="#111">0</text>
<line x1="656.3" y1="1503.1" x2="656.3" y2="1519.2" stroke="#111" stroke-width="2.4"/>
<line x1="754.5" y1="1503.1" x2="754.5" y2="1519.2" stroke="#111" stroke-width="2.4"/>
<circle cx="648.3" cy="1266.83" r="5.3" fill="#111"/>
<circle cx="656.35" cy="1265.9" r="5.3" fill="#111"/>
<circle cx="671.52" cy="1270.54" r="5.3" fill="#111"/>
<circle cx="641.49" cy="1277.67" r="5.3" fill="#111"/>
<circle cx="656.35" cy="1281.69" r="5.3" fill="#111"/>
<circle cx="656.35" cy="1300.89" r="5.3" fill="#111"/>
<circle cx="671.52" cy="1311.73" r="5.3" fill="#111"/>
<circle cx="641.49" cy="1316.99" r="5.3" fill="#111"/>
<circle cx="656.35" cy="1324.11" r="5.3" fill="#111"/>
<circle cx="641.49" cy="1355.08" r="5.3" fill="#111"/>
<circle cx="656.35" cy="1366.84" r="5.3" fill="#111"/>
<circle cx="671.52" cy="1362.82" r="5.3" fill="#111"/>
<circle cx="656.35" cy="1389.76" r="5.3" fill="#111"/>
<circle cx="656.35" cy="1406.17" r="5.3" fill="#111"/>
<circle cx="671.52" cy="1404.62" r="5.3" fill="#111"/>
<circle cx="656.35" cy="1422.27" r="5.3" fill="#111"/>
<circle cx="656.35" cy="1450.14" r="5.3" fill="#111"/>
<circle cx="671.52" cy="1450.14" r="5.3" fill="#111"/>
<path d="M754.51 1307.66L759.76 1317.66L749.26 1317.66Z" fill="#111"/>
<path d="M754.51 1359.37L759.76 1369.37L749.26 1369.37Z" fill="#111"/>
<path d="M754.51 1382.59L759.76 1392.59L749.26 1392.59Z" fill="#111"/>
<path d="M754.51 1402.72L759.76 1412.72L749.26 1412.72Z" fill="#111"/>
<path d="M739.03 1421.3L744.28 1431.3L733.78 1431.3Z" fill="#111"/>
<path d="M754.51 1429.04L759.76 1439.04L749.26 1439.04Z" fill="#111"/>
<path d="M769.68 1446.07L774.93 1456.07L764.43 1456.07Z" fill="#111"/>
<path d="M754.51 1455.36L759.76 1465.36L749.26 1465.36Z" fill="#111"/>
<line x1="622.3" y1="1345.79" x2="690.3" y2="1345.79" stroke="#111" stroke-width="2.4"/>
<line x1="638.8" y1="1330.31" x2="673.8" y2="1330.31" stroke="#111" stroke-width="2.4"/>
<line x1="638.8" y1="1361.27" x2="673.8" y2="1361.27" stroke="#111" stroke-width="2.4"/>
<line x1="656.3" y1="1330.31" x2="656.3" y2="1361.27" stroke="#111" stroke-width="2.4"/>
<line x1="720.5" y1="1404.93" x2="788.5" y2="1404.93" stroke="#111" stroke-width="2.4"/>
<line x1="737" y1="1387.59" x2="772" y2="1387.59" stroke="#111" stroke-width="2.4"/>
<line x1="737" y1="1422.27" x2="772" y2="1422.27" stroke="#111" stroke-width="2.4"/>
<line x1="754.5" y1="1387.59" x2="754.5" y2="1422.27" stroke="#111" stroke-width="2.4"/>
<line x1="652.94" y1="1231.22" x2="758.22" y2="1231.22" stroke="#111" stroke-width="2.4"/>
<text transform="translate(707.13 1232)" font-size="39" text-anchor="middle" stroke-width="0.1" fill="#111">*</text>
<text transform="translate(530.4 1487.8) rotate(-90)" font-size="42" fill="#111">CXCR4<tspan font-size="30" dx="-0.3" dy="-22.5" stroke-width="1.2">+</tspan><tspan dx="6.2" dy="7.8">T</tspan><tspan font-size="31" dx="-7.7" dy="9.6">reg</tspan><tspan dx="1.2" dy="-8.3">%</tspan></text>
<text transform="translate(672.5 1545.1) rotate(-45)" font-size="41" text-anchor="end" letter-spacing="-2" fill="#111">non-GVHD PB</text>
<text transform="translate(770.7 1545.1) rotate(-45)" font-size="41" text-anchor="end" letter-spacing="-1.5" fill="#111">aGVHD PB</text>
<text transform="translate(962.9 1208.9)" font-size="42" font-weight="bold" stroke-width="0" fill="#111">H</text>
<line x1="1088.1" y1="1501" x2="1400.2" y2="1501" stroke="#111" stroke-width="2.4"/>
<line x1="1103.4" y1="1201" x2="1103.4" y2="1502.2" stroke="#111" stroke-width="2.4"/>
<line x1="1087.7" y1="1202.2" x2="1103.4" y2="1202.2" stroke="#111" stroke-width="2.4"/>
<text transform="translate(1083.4 1216.48)" font-size="42" text-anchor="end" fill="#111"><tspan letter-spacing="-1.6">25</tspan>0</text>
<line x1="1087.7" y1="1261.96" x2="1103.4" y2="1261.96" stroke="#111" stroke-width="2.4"/>
<text transform="translate(1083.4 1276.24)" font-size="42" text-anchor="end" fill="#111"><tspan letter-spacing="-1.6">20</tspan>0</text>
<line x1="1087.7" y1="1321.72" x2="1103.4" y2="1321.72" stroke="#111" stroke-width="2.4"/>
<text transform="translate(1083.4 1336)" font-size="42" text-anchor="end" fill="#111"><tspan letter-spacing="-1.6">15</tspan>0</text>
<line x1="1087.7" y1="1381.48" x2="1103.4" y2="1381.48" stroke="#111" stroke-width="2.4"/>
<text transform="translate(1083.4 1395.76)" font-size="42" text-anchor="end" fill="#111"><tspan letter-spacing="-1.6">10</tspan>0</text>
<line x1="1087.7" y1="1441.24" x2="1103.4" y2="1441.24" stroke="#111" stroke-width="2.4"/>
<text transform="translate(1083.4 1455.52)" font-size="42" text-anchor="end" fill="#111"><tspan letter-spacing="-1.6">5</tspan>0</text>
<line x1="1087.7" y1="1501" x2="1103.4" y2="1501" stroke="#111" stroke-width="2.4"/>
<text transform="translate(1083.4 1515.28)" font-size="42" text-anchor="end" fill="#111">0</text>
<line x1="1103.4" y1="1501" x2="1103.4" y2="1515.8" stroke="#111" stroke-width="2.4"/>
<text transform="translate(1103.4 1556)" font-size="42" text-anchor="middle" fill="#111">0</text>
<line x1="1201.7" y1="1501" x2="1201.7" y2="1515.8" stroke="#111" stroke-width="2.4"/>
<text transform="translate(1201.7 1556)" font-size="42" text-anchor="middle" fill="#111">5</text>
<line x1="1300.6" y1="1501" x2="1300.6" y2="1515.8" stroke="#111" stroke-width="2.4"/>
<text transform="translate(1300.6 1556)" font-size="42" text-anchor="middle" fill="#111">10</text>
<line x1="1399" y1="1501" x2="1399" y2="1515.8" stroke="#111" stroke-width="2.4"/>
<text transform="translate(1399 1556)" font-size="42" text-anchor="middle" fill="#111">15</text>
<circle cx="1202.67" cy="1238.83" r="5.3" fill="#111"/>
<circle cx="1172.5" cy="1342.33" r="5.3" fill="#111"/>
<circle cx="1142.65" cy="1375.09" r="5.3" fill="#111"/>
<circle cx="1213.05" cy="1381.58" r="5.3" fill="#111"/>
<circle cx="1203.32" cy="1403.97" r="5.3" fill="#111"/>
<circle cx="1359.04" cy="1357.25" r="5.3" fill="#111"/>
<circle cx="1104.37" cy="1436.73" r="5.3" fill="#111"/>
<circle cx="1103.72" cy="1460.74" r="5.3" fill="#111"/>
<circle cx="1124.81" cy="1454.25" r="5.3" fill="#111"/>
<circle cx="1127.08" cy="1461.71" r="5.3" fill="#111"/>
<circle cx="1114.1" cy="1480.53" r="5.3" fill="#111"/>
<circle cx="1114.43" cy="1485.4" r="5.3" fill="#111"/>
<circle cx="1163.41" cy="1476.96" r="5.3" fill="#111"/>
<line x1="1103.4" y1="1447.1" x2="1360.7" y2="1300.2" stroke="#111" stroke-width="2.8"/>
<text transform="translate(1394 1237)" font-size="42" text-anchor="end" fill="#111">p=0.04</text>
<text transform="translate(1394 1283)" font-size="42" text-anchor="end" fill="#111">r=0.32</text>
<text transform="translate(1250 1612.6)" font-size="42" text-anchor="middle" letter-spacing="-0.4" fill="#111">Treg%</text>
<text transform="translate(993 1460) rotate(-90)" font-size="42" fill="#111">PLT(×10<tspan font-size="29" dy="-15">9</tspan><tspan dy="15">/L)</tspan></text>
<text transform="translate(5.5 1802.9)" font-size="42" font-weight="bold" stroke-width="0" fill="#111">I</text>
<line x1="98.5" y1="2121.7" x2="410.6" y2="2121.7" stroke="#111" stroke-width="2.4"/>
<line x1="114" y1="1822.3" x2="114" y2="2122.9" stroke="#111" stroke-width="2.4"/>
<line x1="98.3" y1="1823.5" x2="114" y2="1823.5" stroke="#111" stroke-width="2.4"/>
<text transform="translate(94 1837.78)" font-size="42" text-anchor="end" fill="#111"><tspan letter-spacing="-1.6">5</tspan>0</text>
<line x1="98.3" y1="1883.14" x2="114" y2="1883.14" stroke="#111" stroke-width="2.4"/>
<text transform="translate(94 1897.42)" font-size="42" text-anchor="end" fill="#111"><tspan letter-spacing="-1.6">4</tspan>0</text>
<line x1="98.3" y1="1942.78" x2="114" y2="1942.78" stroke="#111" stroke-width="2.4"/>
<text transform="translate(94 1957.06)" font-size="42" text-anchor="end" fill="#111"><tspan letter-spacing="-1.6">3</tspan>0</text>
<line x1="98.3" y1="2002.42" x2="114" y2="2002.42" stroke="#111" stroke-width="2.4"/>
<text transform="translate(94 2016.7)" font-size="42" text-anchor="end" fill="#111"><tspan letter-spacing="-1.6">2</tspan>0</text>
<line x1="98.3" y1="2062.06" x2="114" y2="2062.06" stroke="#111" stroke-width="2.4"/>
<text transform="translate(94 2076.34)" font-size="42" text-anchor="end" fill="#111"><tspan letter-spacing="-1.6">1</tspan>0</text>
<line x1="98.3" y1="2121.7" x2="114" y2="2121.7" stroke="#111" stroke-width="2.4"/>
<text transform="translate(94 2135.98)" font-size="42" text-anchor="end" fill="#111">0</text>
<line x1="114" y1="2121.7" x2="114" y2="2137" stroke="#111" stroke-width="2.4"/>
<text transform="translate(114 2177)" font-size="42" text-anchor="middle" fill="#111">0</text>
<line x1="212.1" y1="2121.7" x2="212.1" y2="2137" stroke="#111" stroke-width="2.4"/>
<text transform="translate(212.1 2177)" font-size="42" text-anchor="middle" fill="#111">5</text>
<line x1="310.6" y1="2121.7" x2="310.6" y2="2137" stroke="#111" stroke-width="2.4"/>
<text transform="translate(310.6 2177)" font-size="42" text-anchor="middle" fill="#111">10</text>
<line x1="409.4" y1="2121.7" x2="409.4" y2="2137" stroke="#111" stroke-width="2.4"/>
<text transform="translate(409.4 2177)" font-size="42" text-anchor="middle" fill="#111">15</text>
<circle cx="223.56" cy="1883.86" r="5.3" fill="#111"/>
<circle cx="153.27" cy="1930.92" r="5.3" fill="#111"/>
<circle cx="212.42" cy="1943.62" r="5.3" fill="#111"/>
<circle cx="213.66" cy="1991.31" r="5.3" fill="#111"/>
<circle cx="369.41" cy="1955.39" r="5.3" fill="#111"/>
<circle cx="124.48" cy="2003.07" r="5.3" fill="#111"/>
<circle cx="174.02" cy="2062.83" r="5.3" fill="#111"/>
<circle cx="182.69" cy="2104.33" r="5.3" fill="#111"/>
<circle cx="137.48" cy="2104.33" r="5.3" fill="#111"/>
<circle cx="117.05" cy="2110.52" r="5.3" fill="#111"/>
<circle cx="135.01" cy="2116.71" r="5.3" fill="#111"/>
<circle cx="114.57" cy="2121.67" r="5.3" fill="#111"/>
<line x1="114" y1="2079.9" x2="370.6" y2="1889.4" stroke="#111" stroke-width="2.8"/>
<text transform="translate(380 1852)" font-size="42" text-anchor="end" fill="#111">p=0.03</text>
<text transform="translate(380 1885.5)" font-size="42" text-anchor="end" fill="#111">r=0.37</text>
<text transform="translate(259.5 2233.5)" font-size="42" text-anchor="middle" letter-spacing="-0.5" fill="#111">Treg%</text>
<text transform="translate(31 2128) rotate(-90)" font-size="42" fill="#111">Megakaryocytes</text>
<text transform="translate(457.8 1801.7)" font-size="42" font-weight="bold" stroke-width="0" fill="#111">J</text>
<line x1="589.5" y1="2111.4" x2="801.6" y2="2111.4" stroke="#111" stroke-width="2.4"/>
<line x1="604.3" y1="1815.5" x2="604.3" y2="2112.6" stroke="#111" stroke-width="2.4"/>
<line x1="588.6" y1="1816.7" x2="604.3" y2="1816.7" stroke="#111" stroke-width="2.4"/>
<text transform="translate(584.3 1830.98)" font-size="42" text-anchor="end" fill="#111"><tspan letter-spacing="-0.6">2.</tspan>0</text>
<line x1="588.6" y1="1890.38" x2="604.3" y2="1890.38" stroke="#111" stroke-width="2.4"/>
<text transform="translate(584.3 1904.65)" font-size="42" text-anchor="end" fill="#111"><tspan letter-spacing="-0.6">1.</tspan>5</text>
<line x1="588.6" y1="1964.05" x2="604.3" y2="1964.05" stroke="#111" stroke-width="2.4"/>
<text transform="translate(584.3 1978.33)" font-size="42" text-anchor="end" fill="#111"><tspan letter-spacing="-0.6">1.</tspan>0</text>
<line x1="588.6" y1="2037.73" x2="604.3" y2="2037.73" stroke="#111" stroke-width="2.4"/>
<text transform="translate(584.3 2052.01)" font-size="42" text-anchor="end" fill="#111"><tspan letter-spacing="-0.6">0.</tspan>5</text>
<line x1="588.6" y1="2111.4" x2="604.3" y2="2111.4" stroke="#111" stroke-width="2.4"/>
<text transform="translate(584.3 2125.68)" font-size="42" text-anchor="end" fill="#111"><tspan letter-spacing="-0.6">0.</tspan>0</text>
<line x1="653.6" y1="2111.4" x2="653.6" y2="2126.3" stroke="#111" stroke-width="2.4"/>
<line x1="752" y1="2111.4" x2="752" y2="2126.3" stroke="#111" stroke-width="2.4"/>
<circle cx="653.56" cy="1832.77" r="5.3" fill="#111"/>
<circle cx="653.56" cy="1915.75" r="5.3" fill="#111"/>
<circle cx="653.56" cy="1971.49" r="5.3" fill="#111"/>
<circle cx="668.43" cy="1965.29" r="5.3" fill="#111"/>
<circle cx="653.56" cy="1994.4" r="5.3" fill="#111"/>
<circle cx="653.56" cy="2012.36" r="5.3" fill="#111"/>
<rect x="746.73" y="2059.7" width="10.6" height="10.6" fill="#111"/>
<rect x="731.25" y="2075.8" width="10.6" height="10.6" fill="#111"/>
<rect x="746.73" y="2086.02" width="10.6" height="10.6" fill="#111"/>
<rect x="731.25" y="2092.83" width="10.6" height="10.6" fill="#111"/>
<rect x="761.59" y="2095.31" width="10.6" height="10.6" fill="#111"/>
<rect x="746.73" y="2101.5" width="10.6" height="10.6" fill="#111"/>
<line x1="619.6" y1="1948.26" x2="687.6" y2="1948.26" stroke="#111" stroke-width="2.4"/>
<line x1="636.1" y1="1921.33" x2="671.1" y2="1921.33" stroke="#111" stroke-width="2.4"/>
<line x1="636.1" y1="1975.2" x2="671.1" y2="1975.2" stroke="#111" stroke-width="2.4"/>
<line x1="653.6" y1="1921.33" x2="653.6" y2="1975.2" stroke="#111" stroke-width="2.4"/>
<line x1="718" y1="2090.08" x2="786" y2="2090.08" stroke="#111" stroke-width="2.4"/>
<line x1="734.5" y1="2083.58" x2="769.5" y2="2083.58" stroke="#111" stroke-width="2.4"/>
<line x1="734.5" y1="2096.89" x2="769.5" y2="2096.89" stroke="#111" stroke-width="2.4"/>
<line x1="752" y1="2083.58" x2="752" y2="2096.89" stroke="#111" stroke-width="2.4"/>
<line x1="654.49" y1="1813.57" x2="752.96" y2="1813.57" stroke="#111" stroke-width="2.4"/>
<text transform="translate(705.46 1819.5)" font-size="40" text-anchor="middle" letter-spacing="1.6" stroke-width="0.1" fill="#111">***</text>
<text transform="translate(500.6 2084.2) rotate(-90) scale(0.93 1)" font-size="43.5" fill="#111">CD34</text>
<text transform="translate(481.2 1972) rotate(-90) scale(0.8 1)" font-size="30" text-anchor="middle" stroke-width="1.3" fill="#111">+</text>
<text transform="translate(500.6 1957.9) rotate(-90) scale(0.9 1)" font-size="43.5" fill="#111">cells</text>
<text transform="translate(500.6 1874.6) rotate(-90) scale(0.78 1)" font-size="43.5" fill="#111">%</text>
<text transform="translate(666.1 2156.7) rotate(-45)" font-size="41" text-anchor="end" fill="#111">non-GVHD BM</text>
<text transform="translate(769.5 2154.7) rotate(-45)" font-size="41" text-anchor="end" fill="#111">aGVHD BM</text>
</svg>
</body></html>
